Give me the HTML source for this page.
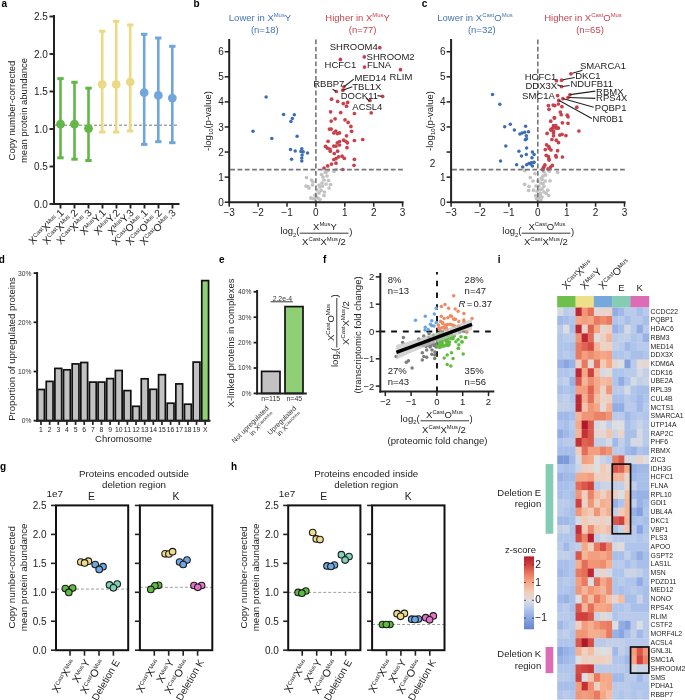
<!DOCTYPE html>
<html><head><meta charset="utf-8"><style>
html,body{margin:0;padding:0;background:#fff;}
body{width:685px;height:700px;overflow:hidden;}
svg{display:block;font-family:"Liberation Sans", sans-serif;will-change:transform;}
</style></head><body>
<svg width="685" height="700" viewBox="0 0 685 700">
<rect width="685" height="700" fill="#fff"/>
<text x="1.50" y="7.00" font-size="10.00" text-anchor="start" fill="#000" font-weight="bold" >a</text>
<line x1="54.00" y1="15.00" x2="54.00" y2="205.00" stroke="#222222" stroke-width="2.00" stroke-linecap="butt"/>
<line x1="53.00" y1="204.00" x2="179.50" y2="204.00" stroke="#222222" stroke-width="2.00" stroke-linecap="butt"/>
<line x1="49.50" y1="204.00" x2="54.00" y2="204.00" stroke="#222222" stroke-width="1.90" stroke-linecap="butt"/>
<text x="47.80" y="207.50" font-size="10.00" text-anchor="end" fill="#222222" >0.0</text>
<line x1="49.50" y1="166.50" x2="54.00" y2="166.50" stroke="#222222" stroke-width="1.90" stroke-linecap="butt"/>
<text x="47.80" y="170.00" font-size="10.00" text-anchor="end" fill="#222222" >0.5</text>
<line x1="49.50" y1="129.00" x2="54.00" y2="129.00" stroke="#222222" stroke-width="1.90" stroke-linecap="butt"/>
<text x="47.80" y="132.50" font-size="10.00" text-anchor="end" fill="#222222" >1.0</text>
<line x1="49.50" y1="91.50" x2="54.00" y2="91.50" stroke="#222222" stroke-width="1.90" stroke-linecap="butt"/>
<text x="47.80" y="95.00" font-size="10.00" text-anchor="end" fill="#222222" >1.5</text>
<line x1="49.50" y1="54.00" x2="54.00" y2="54.00" stroke="#222222" stroke-width="1.90" stroke-linecap="butt"/>
<text x="47.80" y="57.50" font-size="10.00" text-anchor="end" fill="#222222" >2.0</text>
<line x1="49.50" y1="16.50" x2="54.00" y2="16.50" stroke="#222222" stroke-width="1.90" stroke-linecap="butt"/>
<text x="47.80" y="20.00" font-size="10.00" text-anchor="end" fill="#222222" >2.5</text>
<text x="15.20" y="110.50" font-size="9.50" text-anchor="middle" fill="#222222" transform="rotate(-90.00 15.20 110.50)" >Copy number-corrected</text>
<text x="26.90" y="110.50" font-size="9.50" text-anchor="middle" fill="#222222" transform="rotate(-90.00 26.90 110.50)" >mean protein abundance</text>
<line x1="54.00" y1="125.20" x2="179.00" y2="125.20" stroke="#555" stroke-width="0.80" stroke-linecap="butt" stroke-dasharray="3,2"/>
<line x1="60.50" y1="78.60" x2="60.50" y2="157.80" stroke="#62b746" stroke-width="2.60" stroke-linecap="butt"/>
<line x1="57.30" y1="78.60" x2="63.70" y2="78.60" stroke="#62b746" stroke-width="3.00" stroke-linecap="butt"/>
<line x1="57.30" y1="157.80" x2="63.70" y2="157.80" stroke="#62b746" stroke-width="3.00" stroke-linecap="butt"/>
<circle cx="60.50" cy="124.20" r="4.40" fill="#62b746"/>
<line x1="74.50" y1="82.30" x2="74.50" y2="159.20" stroke="#62b746" stroke-width="2.60" stroke-linecap="butt"/>
<line x1="71.30" y1="82.30" x2="77.70" y2="82.30" stroke="#62b746" stroke-width="3.00" stroke-linecap="butt"/>
<line x1="71.30" y1="159.20" x2="77.70" y2="159.20" stroke="#62b746" stroke-width="3.00" stroke-linecap="butt"/>
<circle cx="74.50" cy="124.20" r="4.40" fill="#62b746"/>
<line x1="88.50" y1="88.20" x2="88.50" y2="160.50" stroke="#62b746" stroke-width="2.60" stroke-linecap="butt"/>
<line x1="85.30" y1="88.20" x2="91.70" y2="88.20" stroke="#62b746" stroke-width="3.00" stroke-linecap="butt"/>
<line x1="85.30" y1="160.50" x2="91.70" y2="160.50" stroke="#62b746" stroke-width="3.00" stroke-linecap="butt"/>
<circle cx="88.50" cy="128.60" r="4.40" fill="#62b746"/>
<line x1="102.20" y1="31.20" x2="102.20" y2="132.00" stroke="#ebd985" stroke-width="2.60" stroke-linecap="butt"/>
<line x1="99.00" y1="31.20" x2="105.40" y2="31.20" stroke="#ebd985" stroke-width="3.00" stroke-linecap="butt"/>
<line x1="99.00" y1="132.00" x2="105.40" y2="132.00" stroke="#ebd985" stroke-width="3.00" stroke-linecap="butt"/>
<circle cx="102.20" cy="84.40" r="4.40" fill="#ebd985"/>
<line x1="116.20" y1="21.30" x2="116.20" y2="132.00" stroke="#ebd985" stroke-width="2.60" stroke-linecap="butt"/>
<line x1="113.00" y1="21.30" x2="119.40" y2="21.30" stroke="#ebd985" stroke-width="3.00" stroke-linecap="butt"/>
<line x1="113.00" y1="132.00" x2="119.40" y2="132.00" stroke="#ebd985" stroke-width="3.00" stroke-linecap="butt"/>
<circle cx="116.20" cy="84.40" r="4.40" fill="#ebd985"/>
<line x1="130.20" y1="25.00" x2="130.20" y2="131.00" stroke="#ebd985" stroke-width="2.60" stroke-linecap="butt"/>
<line x1="127.00" y1="25.00" x2="133.40" y2="25.00" stroke="#ebd985" stroke-width="3.00" stroke-linecap="butt"/>
<line x1="127.00" y1="131.00" x2="133.40" y2="131.00" stroke="#ebd985" stroke-width="3.00" stroke-linecap="butt"/>
<circle cx="130.20" cy="82.00" r="4.40" fill="#ebd985"/>
<line x1="144.20" y1="34.30" x2="144.20" y2="144.40" stroke="#70a6dc" stroke-width="2.60" stroke-linecap="butt"/>
<line x1="141.00" y1="34.30" x2="147.40" y2="34.30" stroke="#70a6dc" stroke-width="3.00" stroke-linecap="butt"/>
<line x1="141.00" y1="144.40" x2="147.40" y2="144.40" stroke="#70a6dc" stroke-width="3.00" stroke-linecap="butt"/>
<circle cx="144.20" cy="92.60" r="4.40" fill="#70a6dc"/>
<line x1="158.30" y1="38.00" x2="158.30" y2="141.70" stroke="#70a6dc" stroke-width="2.60" stroke-linecap="butt"/>
<line x1="155.10" y1="38.00" x2="161.50" y2="38.00" stroke="#70a6dc" stroke-width="3.00" stroke-linecap="butt"/>
<line x1="155.10" y1="141.70" x2="161.50" y2="141.70" stroke="#70a6dc" stroke-width="3.00" stroke-linecap="butt"/>
<circle cx="158.30" cy="95.40" r="4.40" fill="#70a6dc"/>
<line x1="172.30" y1="46.30" x2="172.30" y2="142.70" stroke="#70a6dc" stroke-width="2.60" stroke-linecap="butt"/>
<line x1="169.10" y1="46.30" x2="175.50" y2="46.30" stroke="#70a6dc" stroke-width="3.00" stroke-linecap="butt"/>
<line x1="169.10" y1="142.70" x2="175.50" y2="142.70" stroke="#70a6dc" stroke-width="3.00" stroke-linecap="butt"/>
<circle cx="172.30" cy="98.10" r="4.40" fill="#70a6dc"/>
<line x1="60.50" y1="204.00" x2="60.50" y2="208.50" stroke="#222222" stroke-width="1.90" stroke-linecap="butt"/>
<line x1="74.50" y1="204.00" x2="74.50" y2="208.50" stroke="#222222" stroke-width="1.90" stroke-linecap="butt"/>
<line x1="88.50" y1="204.00" x2="88.50" y2="208.50" stroke="#222222" stroke-width="1.90" stroke-linecap="butt"/>
<line x1="102.50" y1="204.00" x2="102.50" y2="208.50" stroke="#222222" stroke-width="1.90" stroke-linecap="butt"/>
<line x1="116.50" y1="204.00" x2="116.50" y2="208.50" stroke="#222222" stroke-width="1.90" stroke-linecap="butt"/>
<line x1="130.50" y1="204.00" x2="130.50" y2="208.50" stroke="#222222" stroke-width="1.90" stroke-linecap="butt"/>
<line x1="144.50" y1="204.00" x2="144.50" y2="208.50" stroke="#222222" stroke-width="1.90" stroke-linecap="butt"/>
<line x1="158.50" y1="204.00" x2="158.50" y2="208.50" stroke="#222222" stroke-width="1.90" stroke-linecap="butt"/>
<line x1="172.50" y1="204.00" x2="172.50" y2="208.50" stroke="#222222" stroke-width="1.90" stroke-linecap="butt"/>
<text x="64.50" y="213.40" font-size="10.20" text-anchor="end" fill="#222222" transform="rotate(-45.00 64.50 213.40)" ><tspan font-size="10.20" dy="0.00">X</tspan><tspan font-size="5.81" dy="-3.26">Cast</tspan><tspan font-size="10.20" dy="3.26">X</tspan><tspan font-size="5.81" dy="-3.26">Mus</tspan><tspan font-size="10.20" dy="3.26">.1</tspan></text>
<text x="78.50" y="213.40" font-size="10.20" text-anchor="end" fill="#222222" transform="rotate(-45.00 78.50 213.40)" ><tspan font-size="10.20" dy="0.00">X</tspan><tspan font-size="5.81" dy="-3.26">Cast</tspan><tspan font-size="10.20" dy="3.26">X</tspan><tspan font-size="5.81" dy="-3.26">Mus</tspan><tspan font-size="10.20" dy="3.26">.2</tspan></text>
<text x="92.50" y="213.40" font-size="10.20" text-anchor="end" fill="#222222" transform="rotate(-45.00 92.50 213.40)" ><tspan font-size="10.20" dy="0.00">X</tspan><tspan font-size="5.81" dy="-3.26">Cast</tspan><tspan font-size="10.20" dy="3.26">X</tspan><tspan font-size="5.81" dy="-3.26">Mus</tspan><tspan font-size="10.20" dy="3.26">.3</tspan></text>
<text x="106.50" y="213.40" font-size="10.20" text-anchor="end" fill="#222222" transform="rotate(-45.00 106.50 213.40)" ><tspan font-size="10.20" dy="0.00">X</tspan><tspan font-size="5.81" dy="-3.26">Mus</tspan><tspan font-size="10.20" dy="3.26">Y</tspan><tspan font-size="10.20" dy="0.00">.1</tspan></text>
<text x="120.50" y="213.40" font-size="10.20" text-anchor="end" fill="#222222" transform="rotate(-45.00 120.50 213.40)" ><tspan font-size="10.20" dy="0.00">X</tspan><tspan font-size="5.81" dy="-3.26">Mus</tspan><tspan font-size="10.20" dy="3.26">Y</tspan><tspan font-size="10.20" dy="0.00">.2</tspan></text>
<text x="134.50" y="213.40" font-size="10.20" text-anchor="end" fill="#222222" transform="rotate(-45.00 134.50 213.40)" ><tspan font-size="10.20" dy="0.00">X</tspan><tspan font-size="5.81" dy="-3.26">Mus</tspan><tspan font-size="10.20" dy="3.26">Y</tspan><tspan font-size="10.20" dy="0.00">.3</tspan></text>
<text x="148.50" y="213.40" font-size="10.20" text-anchor="end" fill="#222222" transform="rotate(-45.00 148.50 213.40)" ><tspan font-size="10.20" dy="0.00">X</tspan><tspan font-size="5.81" dy="-3.26">Cast</tspan><tspan font-size="10.20" dy="3.26">O</tspan><tspan font-size="5.81" dy="-3.26">Mus</tspan><tspan font-size="10.20" dy="3.26">.1</tspan></text>
<text x="162.50" y="213.40" font-size="10.20" text-anchor="end" fill="#222222" transform="rotate(-45.00 162.50 213.40)" ><tspan font-size="10.20" dy="0.00">X</tspan><tspan font-size="5.81" dy="-3.26">Cast</tspan><tspan font-size="10.20" dy="3.26">O</tspan><tspan font-size="5.81" dy="-3.26">Mus</tspan><tspan font-size="10.20" dy="3.26">.2</tspan></text>
<text x="176.50" y="213.40" font-size="10.20" text-anchor="end" fill="#222222" transform="rotate(-45.00 176.50 213.40)" ><tspan font-size="10.20" dy="0.00">X</tspan><tspan font-size="5.81" dy="-3.26">Cast</tspan><tspan font-size="10.20" dy="3.26">O</tspan><tspan font-size="5.81" dy="-3.26">Mus</tspan><tspan font-size="10.20" dy="3.26">.3</tspan></text>
<circle cx="306.50" cy="177.50" r="1.85" fill="#c2c2c2"/>
<circle cx="311.50" cy="180.00" r="1.85" fill="#c2c2c2"/>
<circle cx="313.00" cy="182.00" r="1.85" fill="#c2c2c2"/>
<circle cx="306.00" cy="186.00" r="1.85" fill="#c2c2c2"/>
<circle cx="308.00" cy="186.50" r="1.85" fill="#c2c2c2"/>
<circle cx="312.50" cy="185.00" r="1.85" fill="#c2c2c2"/>
<circle cx="321.50" cy="174.50" r="1.85" fill="#c2c2c2"/>
<circle cx="325.00" cy="172.00" r="1.85" fill="#c2c2c2"/>
<circle cx="328.00" cy="170.50" r="1.85" fill="#c2c2c2"/>
<circle cx="334.00" cy="171.50" r="1.85" fill="#c2c2c2"/>
<circle cx="336.50" cy="169.50" r="1.85" fill="#c2c2c2"/>
<circle cx="323.00" cy="177.00" r="1.85" fill="#c2c2c2"/>
<circle cx="324.00" cy="180.00" r="1.85" fill="#c2c2c2"/>
<circle cx="328.50" cy="180.50" r="1.85" fill="#c2c2c2"/>
<circle cx="326.00" cy="184.00" r="1.85" fill="#c2c2c2"/>
<circle cx="330.50" cy="184.50" r="1.85" fill="#c2c2c2"/>
<circle cx="320.00" cy="187.00" r="1.85" fill="#c2c2c2"/>
<circle cx="322.50" cy="186.00" r="1.85" fill="#c2c2c2"/>
<circle cx="329.00" cy="188.00" r="1.85" fill="#c2c2c2"/>
<circle cx="321.00" cy="190.50" r="1.85" fill="#c2c2c2"/>
<circle cx="319.00" cy="193.00" r="1.85" fill="#c2c2c2"/>
<circle cx="324.50" cy="192.00" r="1.85" fill="#c2c2c2"/>
<circle cx="324.00" cy="195.50" r="1.85" fill="#c2c2c2"/>
<circle cx="318.00" cy="198.00" r="1.85" fill="#c2c2c2"/>
<circle cx="313.00" cy="198.50" r="1.85" fill="#c2c2c2"/>
<circle cx="315.00" cy="199.00" r="1.85" fill="#c2c2c2"/>
<circle cx="308.90" cy="188.00" r="1.85" fill="#c2c2c2"/>
<circle cx="310.70" cy="197.90" r="1.85" fill="#c2c2c2"/>
<circle cx="316.00" cy="196.00" r="1.85" fill="#c2c2c2"/>
<circle cx="317.00" cy="190.00" r="1.85" fill="#c2c2c2"/>
<circle cx="322.00" cy="183.00" r="1.85" fill="#c2c2c2"/>
<circle cx="327.00" cy="176.00" r="1.85" fill="#c2c2c2"/>
<circle cx="315.00" cy="195.00" r="1.85" fill="#c2c2c2"/>
<circle cx="319.00" cy="185.00" r="1.85" fill="#c2c2c2"/>
<circle cx="320.00" cy="199.50" r="1.85" fill="#c2c2c2"/>
<circle cx="326.00" cy="172.50" r="1.85" fill="#c2c2c2"/>
<circle cx="266.10" cy="97.00" r="1.75" fill="#3b6db6"/>
<circle cx="283.60" cy="114.50" r="1.75" fill="#3b6db6"/>
<circle cx="294.30" cy="114.80" r="1.75" fill="#3b6db6"/>
<circle cx="292.30" cy="118.40" r="1.75" fill="#3b6db6"/>
<circle cx="290.90" cy="121.60" r="1.75" fill="#3b6db6"/>
<circle cx="253.00" cy="131.25" r="1.75" fill="#3b6db6"/>
<circle cx="271.80" cy="138.40" r="1.75" fill="#3b6db6"/>
<circle cx="297.10" cy="136.25" r="1.75" fill="#3b6db6"/>
<circle cx="290.50" cy="149.60" r="1.75" fill="#3b6db6"/>
<circle cx="295.20" cy="151.10" r="1.75" fill="#3b6db6"/>
<circle cx="301.80" cy="148.75" r="1.75" fill="#3b6db6"/>
<circle cx="300.90" cy="151.40" r="1.75" fill="#3b6db6"/>
<circle cx="303.20" cy="151.80" r="1.75" fill="#3b6db6"/>
<circle cx="307.50" cy="152.90" r="1.75" fill="#3b6db6"/>
<circle cx="302.10" cy="155.00" r="1.75" fill="#3b6db6"/>
<circle cx="301.80" cy="157.90" r="1.75" fill="#3b6db6"/>
<circle cx="291.60" cy="159.30" r="1.75" fill="#3b6db6"/>
<circle cx="301.80" cy="160.90" r="1.75" fill="#3b6db6"/>
<circle cx="379.80" cy="47.70" r="1.85" fill="#c93f4a"/>
<circle cx="364.30" cy="56.90" r="1.85" fill="#c93f4a"/>
<circle cx="340.40" cy="59.40" r="1.85" fill="#c93f4a"/>
<circle cx="364.50" cy="67.10" r="1.85" fill="#c93f4a"/>
<circle cx="400.50" cy="69.70" r="1.85" fill="#c93f4a"/>
<circle cx="343.90" cy="86.80" r="1.85" fill="#c93f4a"/>
<circle cx="342.80" cy="90.20" r="1.85" fill="#c93f4a"/>
<circle cx="336.30" cy="91.50" r="1.85" fill="#c93f4a"/>
<circle cx="382.60" cy="96.30" r="1.85" fill="#c93f4a"/>
<circle cx="369.90" cy="100.40" r="1.85" fill="#c93f4a"/>
<circle cx="331.60" cy="99.20" r="1.85" fill="#c93f4a"/>
<circle cx="337.70" cy="101.40" r="1.85" fill="#c93f4a"/>
<circle cx="343.30" cy="103.60" r="1.85" fill="#c93f4a"/>
<circle cx="347.70" cy="102.40" r="1.85" fill="#c93f4a"/>
<circle cx="346.50" cy="106.20" r="1.85" fill="#c93f4a"/>
<circle cx="330.60" cy="111.80" r="1.85" fill="#c93f4a"/>
<circle cx="340.70" cy="112.60" r="1.85" fill="#c93f4a"/>
<circle cx="354.40" cy="113.50" r="1.85" fill="#c93f4a"/>
<circle cx="371.20" cy="112.80" r="1.85" fill="#c93f4a"/>
<circle cx="335.10" cy="118.80" r="1.85" fill="#c93f4a"/>
<circle cx="331.20" cy="121.10" r="1.85" fill="#c93f4a"/>
<circle cx="345.00" cy="119.80" r="1.85" fill="#c93f4a"/>
<circle cx="348.10" cy="122.40" r="1.85" fill="#c93f4a"/>
<circle cx="350.90" cy="126.40" r="1.85" fill="#c93f4a"/>
<circle cx="351.60" cy="131.30" r="1.85" fill="#c93f4a"/>
<circle cx="329.40" cy="129.10" r="1.85" fill="#c93f4a"/>
<circle cx="331.20" cy="129.10" r="1.85" fill="#c93f4a"/>
<circle cx="333.80" cy="132.90" r="1.85" fill="#c93f4a"/>
<circle cx="335.80" cy="131.00" r="1.85" fill="#c93f4a"/>
<circle cx="337.30" cy="133.60" r="1.85" fill="#c93f4a"/>
<circle cx="339.50" cy="132.90" r="1.85" fill="#c93f4a"/>
<circle cx="346.50" cy="135.80" r="1.85" fill="#c93f4a"/>
<circle cx="328.10" cy="141.30" r="1.85" fill="#c93f4a"/>
<circle cx="337.30" cy="142.80" r="1.85" fill="#c93f4a"/>
<circle cx="339.50" cy="141.50" r="1.85" fill="#c93f4a"/>
<circle cx="343.70" cy="140.20" r="1.85" fill="#c93f4a"/>
<circle cx="346.10" cy="141.50" r="1.85" fill="#c93f4a"/>
<circle cx="347.40" cy="142.80" r="1.85" fill="#c93f4a"/>
<circle cx="354.40" cy="140.50" r="1.85" fill="#c93f4a"/>
<circle cx="362.70" cy="139.50" r="1.85" fill="#c93f4a"/>
<circle cx="325.50" cy="146.30" r="1.85" fill="#c93f4a"/>
<circle cx="327.30" cy="148.10" r="1.85" fill="#c93f4a"/>
<circle cx="329.90" cy="149.00" r="1.85" fill="#c93f4a"/>
<circle cx="330.30" cy="151.20" r="1.85" fill="#c93f4a"/>
<circle cx="333.80" cy="146.10" r="1.85" fill="#c93f4a"/>
<circle cx="336.00" cy="146.10" r="1.85" fill="#c93f4a"/>
<circle cx="339.50" cy="145.00" r="1.85" fill="#c93f4a"/>
<circle cx="347.00" cy="147.70" r="1.85" fill="#c93f4a"/>
<circle cx="337.60" cy="151.20" r="1.85" fill="#c93f4a"/>
<circle cx="334.30" cy="153.50" r="1.85" fill="#c93f4a"/>
<circle cx="338.60" cy="156.80" r="1.85" fill="#c93f4a"/>
<circle cx="342.10" cy="156.20" r="1.85" fill="#c93f4a"/>
<circle cx="344.30" cy="158.30" r="1.85" fill="#c93f4a"/>
<circle cx="333.80" cy="159.50" r="1.85" fill="#c93f4a"/>
<circle cx="336.00" cy="158.60" r="1.85" fill="#c93f4a"/>
<circle cx="336.00" cy="163.20" r="1.85" fill="#c93f4a"/>
<circle cx="331.50" cy="164.10" r="1.85" fill="#c93f4a"/>
<circle cx="327.70" cy="165.90" r="1.85" fill="#c93f4a"/>
<circle cx="324.00" cy="168.00" r="1.85" fill="#c93f4a"/>
<circle cx="354.40" cy="159.30" r="1.85" fill="#c93f4a"/>
<circle cx="354.00" cy="165.30" r="1.85" fill="#c93f4a"/>
<circle cx="342.80" cy="169.50" r="1.85" fill="#c93f4a"/>
<line x1="315.90" y1="39.50" x2="315.90" y2="202.20" stroke="#767676" stroke-width="1.60" stroke-linecap="butt" stroke-dasharray="4.8,2.5"/>
<line x1="230.20" y1="169.60" x2="403.60" y2="169.60" stroke="#767676" stroke-width="1.60" stroke-linecap="butt" stroke-dasharray="4.8,2.5"/>
<line x1="229.20" y1="39.00" x2="229.20" y2="203.20" stroke="#222222" stroke-width="2.00" stroke-linecap="butt"/>
<line x1="228.20" y1="202.20" x2="403.60" y2="202.20" stroke="#222222" stroke-width="2.00" stroke-linecap="butt"/>
<line x1="224.70" y1="202.20" x2="229.20" y2="202.20" stroke="#222222" stroke-width="1.50" stroke-linecap="butt"/>
<text x="223.70" y="205.80" font-size="10.00" text-anchor="end" fill="#222222" >0</text>
<line x1="224.70" y1="177.12" x2="229.20" y2="177.12" stroke="#222222" stroke-width="1.50" stroke-linecap="butt"/>
<text x="223.70" y="180.72" font-size="10.00" text-anchor="end" fill="#222222" >1</text>
<line x1="224.70" y1="152.04" x2="229.20" y2="152.04" stroke="#222222" stroke-width="1.50" stroke-linecap="butt"/>
<text x="223.70" y="155.64" font-size="10.00" text-anchor="end" fill="#222222" >2</text>
<line x1="224.70" y1="126.96" x2="229.20" y2="126.96" stroke="#222222" stroke-width="1.50" stroke-linecap="butt"/>
<text x="223.70" y="130.56" font-size="10.00" text-anchor="end" fill="#222222" >3</text>
<line x1="224.70" y1="101.88" x2="229.20" y2="101.88" stroke="#222222" stroke-width="1.50" stroke-linecap="butt"/>
<text x="223.70" y="105.48" font-size="10.00" text-anchor="end" fill="#222222" >4</text>
<line x1="224.70" y1="76.80" x2="229.20" y2="76.80" stroke="#222222" stroke-width="1.50" stroke-linecap="butt"/>
<text x="223.70" y="80.40" font-size="10.00" text-anchor="end" fill="#222222" >5</text>
<line x1="224.70" y1="51.72" x2="229.20" y2="51.72" stroke="#222222" stroke-width="1.50" stroke-linecap="butt"/>
<text x="223.70" y="55.32" font-size="10.00" text-anchor="end" fill="#222222" >6</text>
<line x1="229.20" y1="202.20" x2="229.20" y2="206.70" stroke="#222222" stroke-width="1.50" stroke-linecap="butt"/>
<text x="229.20" y="216.20" font-size="10.00" text-anchor="middle" fill="#222222" >−3</text>
<line x1="258.10" y1="202.20" x2="258.10" y2="206.70" stroke="#222222" stroke-width="1.50" stroke-linecap="butt"/>
<text x="258.10" y="216.20" font-size="10.00" text-anchor="middle" fill="#222222" >−2</text>
<line x1="287.00" y1="202.20" x2="287.00" y2="206.70" stroke="#222222" stroke-width="1.50" stroke-linecap="butt"/>
<text x="287.00" y="216.20" font-size="10.00" text-anchor="middle" fill="#222222" >−1</text>
<line x1="315.90" y1="202.20" x2="315.90" y2="206.70" stroke="#222222" stroke-width="1.50" stroke-linecap="butt"/>
<text x="315.90" y="216.20" font-size="10.00" text-anchor="middle" fill="#222222" >0</text>
<line x1="344.80" y1="202.20" x2="344.80" y2="206.70" stroke="#222222" stroke-width="1.50" stroke-linecap="butt"/>
<text x="344.80" y="216.20" font-size="10.00" text-anchor="middle" fill="#222222" >1</text>
<line x1="373.70" y1="202.20" x2="373.70" y2="206.70" stroke="#222222" stroke-width="1.50" stroke-linecap="butt"/>
<text x="373.70" y="216.20" font-size="10.00" text-anchor="middle" fill="#222222" >2</text>
<line x1="402.60" y1="202.20" x2="402.60" y2="206.70" stroke="#222222" stroke-width="1.50" stroke-linecap="butt"/>
<text x="402.60" y="216.20" font-size="10.00" text-anchor="middle" fill="#222222" >3</text>
<text x="210.60" y="121.00" font-size="9.50" text-anchor="middle" fill="#222222" transform="rotate(-90.00 210.60 121.00)" ><tspan font-size="9.50" dy="0.00">-log</tspan><tspan font-size="5.89" dy="2.38">10</tspan><tspan font-size="9.50" dy="-2.38">(p-value)</tspan></text>
<text x="260.00" y="21.00" font-size="9.50" text-anchor="middle" fill="#4673b5" ><tspan font-size="9.50" dy="0.00">Lower in X</tspan><tspan font-size="5.89" dy="-3.61">Mus</tspan><tspan font-size="9.50" dy="3.61">Y</tspan></text>
<text x="264.80" y="32.50" font-size="9.50" text-anchor="middle" fill="#4673b5" >(n=18)</text>
<text x="357.60" y="21.00" font-size="9.50" text-anchor="middle" fill="#c7434d" ><tspan font-size="9.50" dy="0.00">Higher in X</tspan><tspan font-size="5.89" dy="-3.61">Mus</tspan><tspan font-size="9.50" dy="3.61">Y</tspan></text>
<text x="362.60" y="32.50" font-size="9.50" text-anchor="middle" fill="#c7434d" >(n=77)</text>
<text x="329.70" y="50.10" font-size="9.50" text-anchor="start" fill="#222" >SHROOM4</text>
<text x="366.60" y="59.60" font-size="9.50" text-anchor="start" fill="#222" >SHROOM2</text>
<text x="324.60" y="68.30" font-size="9.50" text-anchor="start" fill="#222" >HCFC1</text>
<text x="366.90" y="68.30" font-size="9.50" text-anchor="start" fill="#222" >FLNA</text>
<text x="389.60" y="80.00" font-size="9.50" text-anchor="start" fill="#222" >RLIM</text>
<text x="354.50" y="81.40" font-size="9.50" text-anchor="start" fill="#222" >MED14</text>
<text x="352.30" y="89.80" font-size="9.50" text-anchor="start" fill="#222" >TBL1X</text>
<text x="313.20" y="87.00" font-size="9.50" text-anchor="start" fill="#222" >RBBP7</text>
<text x="340.70" y="98.50" font-size="9.50" text-anchor="start" fill="#222" >DOCK11</text>
<text x="352.30" y="109.50" font-size="9.50" text-anchor="start" fill="#222" >ACSL4</text>
<line x1="353.80" y1="79.10" x2="343.90" y2="86.80" stroke="#222" stroke-width="1.10" stroke-linecap="butt"/>
<line x1="352.30" y1="86.80" x2="342.80" y2="90.20" stroke="#222" stroke-width="1.10" stroke-linecap="butt"/>
<line x1="332.60" y1="89.30" x2="336.00" y2="91.20" stroke="#222" stroke-width="1.10" stroke-linecap="butt"/>
<line x1="377.50" y1="95.60" x2="381.50" y2="96.30" stroke="#222" stroke-width="1.10" stroke-linecap="butt"/>
<line x1="366.20" y1="98.20" x2="369.20" y2="101.00" stroke="#222" stroke-width="1.10" stroke-linecap="butt"/>
<text x="280.40" y="234.20" font-size="9.50" text-anchor="start" fill="#222222" ><tspan font-size="9.50" dy="0.00">log</tspan><tspan font-size="5.89" dy="2.38">2</tspan><tspan font-size="9.50" dy="-2.38">(</tspan></text>
<line x1="299.70" y1="233.20" x2="348.50" y2="233.20" stroke="#222" stroke-width="0.90" stroke-linecap="butt"/>
<text x="349.20" y="234.50" font-size="9.50" text-anchor="start" fill="#222222" >)</text>
<text x="325.00" y="229.90" font-size="9.50" text-anchor="middle" fill="#222222" ><tspan font-size="9.50" dy="0.00">X</tspan><tspan font-size="5.89" dy="-3.61">Mus</tspan><tspan font-size="9.50" dy="3.61">Y</tspan></text>
<text x="324.00" y="245.00" font-size="9.50" text-anchor="middle" fill="#222222" ><tspan font-size="9.50" dy="0.00">X</tspan><tspan font-size="5.89" dy="-3.61">Cast</tspan><tspan font-size="9.50" dy="3.61">X</tspan><tspan font-size="5.89" dy="-3.61">Mus</tspan><tspan font-size="9.50" dy="3.61">/2</tspan></text>
<text x="193.50" y="7.00" font-size="10.00" text-anchor="start" fill="#000" font-weight="bold" >b</text>
<circle cx="524.80" cy="170.70" r="1.85" fill="#c2c2c2"/>
<circle cx="535.00" cy="173.60" r="1.85" fill="#c2c2c2"/>
<circle cx="530.30" cy="177.50" r="1.85" fill="#c2c2c2"/>
<circle cx="533.00" cy="181.00" r="1.85" fill="#c2c2c2"/>
<circle cx="524.60" cy="184.30" r="1.85" fill="#c2c2c2"/>
<circle cx="529.00" cy="186.40" r="1.85" fill="#c2c2c2"/>
<circle cx="528.60" cy="190.50" r="1.85" fill="#c2c2c2"/>
<circle cx="533.40" cy="190.20" r="1.85" fill="#c2c2c2"/>
<circle cx="535.60" cy="195.50" r="1.85" fill="#c2c2c2"/>
<circle cx="536.50" cy="198.50" r="1.85" fill="#c2c2c2"/>
<circle cx="538.60" cy="199.40" r="1.85" fill="#c2c2c2"/>
<circle cx="540.40" cy="193.70" r="1.85" fill="#c2c2c2"/>
<circle cx="541.30" cy="178.00" r="1.85" fill="#c2c2c2"/>
<circle cx="542.10" cy="179.30" r="1.85" fill="#c2c2c2"/>
<circle cx="545.60" cy="174.90" r="1.85" fill="#c2c2c2"/>
<circle cx="545.20" cy="181.00" r="1.85" fill="#c2c2c2"/>
<circle cx="550.00" cy="180.80" r="1.85" fill="#c2c2c2"/>
<circle cx="543.00" cy="183.60" r="1.85" fill="#c2c2c2"/>
<circle cx="543.90" cy="186.30" r="1.85" fill="#c2c2c2"/>
<circle cx="542.10" cy="188.90" r="1.85" fill="#c2c2c2"/>
<circle cx="547.80" cy="190.20" r="1.85" fill="#c2c2c2"/>
<circle cx="546.10" cy="193.30" r="1.85" fill="#c2c2c2"/>
<circle cx="548.70" cy="195.50" r="1.85" fill="#c2c2c2"/>
<circle cx="549.20" cy="171.20" r="1.85" fill="#c2c2c2"/>
<circle cx="557.50" cy="172.30" r="1.85" fill="#c2c2c2"/>
<circle cx="540.40" cy="196.80" r="1.85" fill="#c2c2c2"/>
<circle cx="538.00" cy="201.00" r="1.85" fill="#c2c2c2"/>
<circle cx="541.00" cy="200.00" r="1.85" fill="#c2c2c2"/>
<circle cx="544.00" cy="172.00" r="1.85" fill="#c2c2c2"/>
<circle cx="539.00" cy="186.00" r="1.85" fill="#c2c2c2"/>
<circle cx="537.00" cy="191.00" r="1.85" fill="#c2c2c2"/>
<circle cx="541.00" cy="183.00" r="1.85" fill="#c2c2c2"/>
<circle cx="543.00" cy="176.00" r="1.85" fill="#c2c2c2"/>
<circle cx="540.00" cy="190.00" r="1.85" fill="#c2c2c2"/>
<circle cx="544.00" cy="192.00" r="1.85" fill="#c2c2c2"/>
<circle cx="538.00" cy="181.00" r="1.85" fill="#c2c2c2"/>
<circle cx="536.00" cy="186.00" r="1.85" fill="#c2c2c2"/>
<circle cx="542.00" cy="197.00" r="1.85" fill="#c2c2c2"/>
<circle cx="539.00" cy="195.00" r="1.85" fill="#c2c2c2"/>
<circle cx="492.50" cy="94.60" r="1.75" fill="#3b6db6"/>
<circle cx="499.80" cy="104.30" r="1.75" fill="#3b6db6"/>
<circle cx="504.70" cy="126.80" r="1.75" fill="#3b6db6"/>
<circle cx="510.30" cy="124.20" r="1.75" fill="#3b6db6"/>
<circle cx="514.40" cy="130.00" r="1.75" fill="#3b6db6"/>
<circle cx="525.60" cy="126.20" r="1.75" fill="#3b6db6"/>
<circle cx="519.90" cy="133.90" r="1.75" fill="#3b6db6"/>
<circle cx="522.10" cy="132.90" r="1.75" fill="#3b6db6"/>
<circle cx="524.70" cy="132.30" r="1.75" fill="#3b6db6"/>
<circle cx="528.50" cy="131.70" r="1.75" fill="#3b6db6"/>
<circle cx="526.30" cy="135.80" r="1.75" fill="#3b6db6"/>
<circle cx="525.30" cy="139.70" r="1.75" fill="#3b6db6"/>
<circle cx="526.60" cy="138.80" r="1.75" fill="#3b6db6"/>
<circle cx="505.80" cy="145.90" r="1.75" fill="#3b6db6"/>
<circle cx="518.90" cy="151.30" r="1.75" fill="#3b6db6"/>
<circle cx="526.60" cy="148.00" r="1.75" fill="#3b6db6"/>
<circle cx="521.50" cy="156.00" r="1.75" fill="#3b6db6"/>
<circle cx="526.30" cy="154.50" r="1.75" fill="#3b6db6"/>
<circle cx="532.40" cy="151.90" r="1.75" fill="#3b6db6"/>
<circle cx="534.10" cy="154.50" r="1.75" fill="#3b6db6"/>
<circle cx="532.00" cy="157.70" r="1.75" fill="#3b6db6"/>
<circle cx="500.50" cy="160.90" r="1.75" fill="#3b6db6"/>
<circle cx="516.60" cy="164.80" r="1.75" fill="#3b6db6"/>
<circle cx="522.70" cy="167.00" r="1.75" fill="#3b6db6"/>
<circle cx="526.60" cy="164.80" r="1.75" fill="#3b6db6"/>
<circle cx="528.90" cy="163.50" r="1.75" fill="#3b6db6"/>
<circle cx="531.10" cy="162.80" r="1.75" fill="#3b6db6"/>
<circle cx="534.10" cy="162.20" r="1.75" fill="#3b6db6"/>
<circle cx="532.40" cy="166.00" r="1.75" fill="#3b6db6"/>
<circle cx="530.50" cy="164.10" r="1.75" fill="#3b6db6"/>
<circle cx="533.50" cy="162.40" r="1.75" fill="#3b6db6"/>
<circle cx="570.90" cy="73.80" r="1.85" fill="#c93f4a"/>
<circle cx="561.60" cy="80.20" r="1.85" fill="#c93f4a"/>
<circle cx="556.40" cy="80.70" r="1.85" fill="#c93f4a"/>
<circle cx="561.60" cy="86.60" r="1.85" fill="#c93f4a"/>
<circle cx="557.60" cy="95.60" r="1.85" fill="#c93f4a"/>
<circle cx="569.90" cy="94.80" r="1.85" fill="#c93f4a"/>
<circle cx="568.00" cy="97.60" r="1.85" fill="#c93f4a"/>
<circle cx="562.90" cy="98.70" r="1.85" fill="#c93f4a"/>
<circle cx="558.70" cy="100.40" r="1.85" fill="#c93f4a"/>
<circle cx="548.40" cy="105.60" r="1.85" fill="#c93f4a"/>
<circle cx="549.00" cy="109.30" r="1.85" fill="#c93f4a"/>
<circle cx="553.20" cy="105.10" r="1.85" fill="#c93f4a"/>
<circle cx="554.80" cy="105.60" r="1.85" fill="#c93f4a"/>
<circle cx="558.40" cy="104.00" r="1.85" fill="#c93f4a"/>
<circle cx="561.90" cy="106.70" r="1.85" fill="#c93f4a"/>
<circle cx="576.80" cy="107.20" r="1.85" fill="#c93f4a"/>
<circle cx="560.30" cy="112.00" r="1.85" fill="#c93f4a"/>
<circle cx="561.20" cy="114.70" r="1.85" fill="#c93f4a"/>
<circle cx="567.20" cy="115.20" r="1.85" fill="#c93f4a"/>
<circle cx="568.00" cy="116.80" r="1.85" fill="#c93f4a"/>
<circle cx="554.30" cy="117.60" r="1.85" fill="#c93f4a"/>
<circle cx="550.70" cy="121.20" r="1.85" fill="#c93f4a"/>
<circle cx="562.40" cy="122.80" r="1.85" fill="#c93f4a"/>
<circle cx="568.00" cy="123.30" r="1.85" fill="#c93f4a"/>
<circle cx="553.50" cy="125.70" r="1.85" fill="#c93f4a"/>
<circle cx="556.00" cy="128.10" r="1.85" fill="#c93f4a"/>
<circle cx="551.10" cy="129.20" r="1.85" fill="#c93f4a"/>
<circle cx="558.40" cy="128.10" r="1.85" fill="#c93f4a"/>
<circle cx="578.90" cy="131.00" r="1.85" fill="#c93f4a"/>
<circle cx="547.10" cy="133.40" r="1.85" fill="#c93f4a"/>
<circle cx="553.50" cy="132.90" r="1.85" fill="#c93f4a"/>
<circle cx="554.50" cy="118.10" r="1.85" fill="#c93f4a"/>
<circle cx="554.50" cy="126.40" r="1.85" fill="#c93f4a"/>
<circle cx="555.80" cy="125.50" r="1.85" fill="#c93f4a"/>
<circle cx="558.00" cy="128.00" r="1.85" fill="#c93f4a"/>
<circle cx="552.80" cy="128.10" r="1.85" fill="#c93f4a"/>
<circle cx="551.00" cy="130.10" r="1.85" fill="#c93f4a"/>
<circle cx="553.50" cy="131.20" r="1.85" fill="#c93f4a"/>
<circle cx="553.50" cy="135.80" r="1.85" fill="#c93f4a"/>
<circle cx="559.80" cy="135.10" r="1.85" fill="#c93f4a"/>
<circle cx="562.00" cy="134.40" r="1.85" fill="#c93f4a"/>
<circle cx="565.90" cy="135.60" r="1.85" fill="#c93f4a"/>
<circle cx="551.90" cy="139.50" r="1.85" fill="#c93f4a"/>
<circle cx="556.30" cy="140.20" r="1.85" fill="#c93f4a"/>
<circle cx="558.50" cy="142.60" r="1.85" fill="#c93f4a"/>
<circle cx="546.60" cy="144.80" r="1.85" fill="#c93f4a"/>
<circle cx="548.80" cy="146.50" r="1.85" fill="#c93f4a"/>
<circle cx="549.30" cy="148.30" r="1.85" fill="#c93f4a"/>
<circle cx="551.00" cy="150.00" r="1.85" fill="#c93f4a"/>
<circle cx="545.30" cy="149.60" r="1.85" fill="#c93f4a"/>
<circle cx="557.60" cy="150.70" r="1.85" fill="#c93f4a"/>
<circle cx="546.20" cy="155.30" r="1.85" fill="#c93f4a"/>
<circle cx="548.40" cy="156.60" r="1.85" fill="#c93f4a"/>
<circle cx="548.80" cy="158.80" r="1.85" fill="#c93f4a"/>
<circle cx="549.10" cy="160.10" r="1.85" fill="#c93f4a"/>
<circle cx="555.80" cy="155.70" r="1.85" fill="#c93f4a"/>
<circle cx="556.30" cy="157.00" r="1.85" fill="#c93f4a"/>
<circle cx="562.40" cy="157.00" r="1.85" fill="#c93f4a"/>
<circle cx="544.90" cy="164.90" r="1.85" fill="#c93f4a"/>
<circle cx="544.00" cy="166.70" r="1.85" fill="#c93f4a"/>
<circle cx="543.10" cy="168.40" r="1.85" fill="#c93f4a"/>
<circle cx="542.70" cy="169.70" r="1.85" fill="#c93f4a"/>
<circle cx="552.30" cy="165.40" r="1.85" fill="#c93f4a"/>
<circle cx="550.60" cy="167.10" r="1.85" fill="#c93f4a"/>
<circle cx="548.00" cy="168.90" r="1.85" fill="#c93f4a"/>
<line x1="537.80" y1="39.50" x2="537.80" y2="202.20" stroke="#767676" stroke-width="1.60" stroke-linecap="butt" stroke-dasharray="4.8,2.5"/>
<line x1="452.10" y1="169.60" x2="625.50" y2="169.60" stroke="#767676" stroke-width="1.60" stroke-linecap="butt" stroke-dasharray="4.8,2.5"/>
<line x1="451.10" y1="39.00" x2="451.10" y2="203.20" stroke="#222222" stroke-width="2.00" stroke-linecap="butt"/>
<line x1="450.10" y1="202.20" x2="625.50" y2="202.20" stroke="#222222" stroke-width="2.00" stroke-linecap="butt"/>
<line x1="446.60" y1="202.20" x2="451.10" y2="202.20" stroke="#222222" stroke-width="1.50" stroke-linecap="butt"/>
<text x="445.60" y="205.80" font-size="10.00" text-anchor="end" fill="#222222" >0</text>
<line x1="446.60" y1="177.12" x2="451.10" y2="177.12" stroke="#222222" stroke-width="1.50" stroke-linecap="butt"/>
<text x="445.60" y="180.72" font-size="10.00" text-anchor="end" fill="#222222" >1</text>
<line x1="446.60" y1="152.04" x2="451.10" y2="152.04" stroke="#222222" stroke-width="1.50" stroke-linecap="butt"/>
<line x1="446.60" y1="126.96" x2="451.10" y2="126.96" stroke="#222222" stroke-width="1.50" stroke-linecap="butt"/>
<text x="445.60" y="130.56" font-size="10.00" text-anchor="end" fill="#222222" >3</text>
<line x1="446.60" y1="101.88" x2="451.10" y2="101.88" stroke="#222222" stroke-width="1.50" stroke-linecap="butt"/>
<text x="445.60" y="105.48" font-size="10.00" text-anchor="end" fill="#222222" >4</text>
<line x1="446.60" y1="76.80" x2="451.10" y2="76.80" stroke="#222222" stroke-width="1.50" stroke-linecap="butt"/>
<text x="445.60" y="80.40" font-size="10.00" text-anchor="end" fill="#222222" >5</text>
<line x1="446.60" y1="51.72" x2="451.10" y2="51.72" stroke="#222222" stroke-width="1.50" stroke-linecap="butt"/>
<text x="445.60" y="55.32" font-size="10.00" text-anchor="end" fill="#222222" >6</text>
<text x="435.30" y="166.90" font-size="10.00" text-anchor="end" fill="#222222" >2</text>
<line x1="451.10" y1="202.20" x2="451.10" y2="206.70" stroke="#222222" stroke-width="1.50" stroke-linecap="butt"/>
<text x="451.10" y="216.20" font-size="10.00" text-anchor="middle" fill="#222222" >−3</text>
<line x1="480.00" y1="202.20" x2="480.00" y2="206.70" stroke="#222222" stroke-width="1.50" stroke-linecap="butt"/>
<text x="480.00" y="216.20" font-size="10.00" text-anchor="middle" fill="#222222" >−2</text>
<line x1="508.90" y1="202.20" x2="508.90" y2="206.70" stroke="#222222" stroke-width="1.50" stroke-linecap="butt"/>
<text x="508.90" y="216.20" font-size="10.00" text-anchor="middle" fill="#222222" >−1</text>
<line x1="537.80" y1="202.20" x2="537.80" y2="206.70" stroke="#222222" stroke-width="1.50" stroke-linecap="butt"/>
<text x="537.80" y="216.20" font-size="10.00" text-anchor="middle" fill="#222222" >0</text>
<line x1="566.70" y1="202.20" x2="566.70" y2="206.70" stroke="#222222" stroke-width="1.50" stroke-linecap="butt"/>
<text x="566.70" y="216.20" font-size="10.00" text-anchor="middle" fill="#222222" >1</text>
<line x1="595.60" y1="202.20" x2="595.60" y2="206.70" stroke="#222222" stroke-width="1.50" stroke-linecap="butt"/>
<text x="595.60" y="216.20" font-size="10.00" text-anchor="middle" fill="#222222" >2</text>
<line x1="624.50" y1="202.20" x2="624.50" y2="206.70" stroke="#222222" stroke-width="1.50" stroke-linecap="butt"/>
<text x="624.50" y="216.20" font-size="10.00" text-anchor="middle" fill="#222222" >3</text>
<text x="432.50" y="121.00" font-size="9.50" text-anchor="middle" fill="#222222" transform="rotate(-90.00 432.50 121.00)" ><tspan font-size="9.50" dy="0.00">-log</tspan><tspan font-size="5.89" dy="2.38">10</tspan><tspan font-size="9.50" dy="-2.38">(p-value)</tspan></text>
<text x="475.00" y="21.00" font-size="9.50" text-anchor="middle" fill="#4673b5" ><tspan font-size="9.50" dy="0.00">Lower in X</tspan><tspan font-size="5.89" dy="-3.61">Cast</tspan><tspan font-size="9.50" dy="3.61">O</tspan><tspan font-size="5.89" dy="-3.61">Mus</tspan></text>
<text x="481.80" y="32.50" font-size="9.50" text-anchor="middle" fill="#4673b5" >(n=32)</text>
<text x="583.00" y="21.00" font-size="9.50" text-anchor="middle" fill="#c7434d" ><tspan font-size="9.50" dy="0.00">Higher in X</tspan><tspan font-size="5.89" dy="-3.61">Cast</tspan><tspan font-size="9.50" dy="3.61">O</tspan><tspan font-size="5.89" dy="-3.61">Mus</tspan></text>
<text x="590.00" y="32.50" font-size="9.50" text-anchor="middle" fill="#c7434d" >(n=65)</text>
<text x="580.00" y="69.30" font-size="9.50" text-anchor="start" fill="#222" >SMARCA1</text>
<text x="575.20" y="79.30" font-size="9.50" text-anchor="start" fill="#222" >DKC1</text>
<text x="556.40" y="80.10" font-size="9.50" text-anchor="end" fill="#222" >HCFC1</text>
<text x="570.40" y="87.30" font-size="9.50" text-anchor="start" fill="#222" >NDUFB11</text>
<text x="557.10" y="89.20" font-size="9.50" text-anchor="end" fill="#222" >DDX3X</text>
<text x="554.80" y="99.00" font-size="9.50" text-anchor="end" fill="#222" >SMC1A</text>
<text x="596.10" y="95.00" font-size="9.50" text-anchor="start" fill="#222" >RBMX</text>
<text x="596.10" y="101.00" font-size="9.50" text-anchor="start" fill="#222" >RPS4X</text>
<text x="594.80" y="110.60" font-size="9.50" text-anchor="start" fill="#222" >PQBP1</text>
<text x="592.60" y="122.30" font-size="9.50" text-anchor="start" fill="#222" >NR0B1</text>
<line x1="572.50" y1="73.20" x2="582.50" y2="70.30" stroke="#222" stroke-width="1.10" stroke-linecap="butt"/>
<line x1="563.00" y1="79.80" x2="574.70" y2="77.50" stroke="#222" stroke-width="1.10" stroke-linecap="butt"/>
<line x1="557.20" y1="84.70" x2="561.00" y2="86.30" stroke="#222" stroke-width="1.10" stroke-linecap="butt"/>
<line x1="562.50" y1="86.50" x2="569.60" y2="85.50" stroke="#222" stroke-width="1.10" stroke-linecap="butt"/>
<line x1="570.00" y1="94.60" x2="595.30" y2="91.10" stroke="#222" stroke-width="1.10" stroke-linecap="butt"/>
<line x1="568.50" y1="97.50" x2="595.30" y2="98.40" stroke="#222" stroke-width="1.10" stroke-linecap="butt"/>
<line x1="563.50" y1="98.80" x2="593.70" y2="107.20" stroke="#222" stroke-width="1.10" stroke-linecap="butt"/>
<line x1="559.20" y1="100.60" x2="591.80" y2="118.40" stroke="#222" stroke-width="1.10" stroke-linecap="butt"/>
<text x="502.30" y="234.20" font-size="9.50" text-anchor="start" fill="#222222" ><tspan font-size="9.50" dy="0.00">log</tspan><tspan font-size="5.89" dy="2.38">2</tspan><tspan font-size="9.50" dy="-2.38">(</tspan></text>
<line x1="521.60" y1="233.20" x2="570.40" y2="233.20" stroke="#222" stroke-width="0.90" stroke-linecap="butt"/>
<text x="571.10" y="234.50" font-size="9.50" text-anchor="start" fill="#222222" >)</text>
<text x="546.90" y="229.90" font-size="9.50" text-anchor="middle" fill="#222222" ><tspan font-size="9.50" dy="0.00">X</tspan><tspan font-size="5.89" dy="-3.61">Cast</tspan><tspan font-size="9.50" dy="3.61">O</tspan><tspan font-size="5.89" dy="-3.61">Mus</tspan></text>
<text x="545.90" y="245.00" font-size="9.50" text-anchor="middle" fill="#222222" ><tspan font-size="9.50" dy="0.00">X</tspan><tspan font-size="5.89" dy="-3.61">Cast</tspan><tspan font-size="9.50" dy="3.61">X</tspan><tspan font-size="5.89" dy="-3.61">Mus</tspan><tspan font-size="9.50" dy="3.61">/2</tspan></text>
<text x="421.70" y="7.00" font-size="10.00" text-anchor="start" fill="#000" font-weight="bold" >c</text>
<text x="-1.30" y="262.70" font-size="10.00" text-anchor="start" fill="#000" font-weight="bold" >d</text>
<rect x="37.60" y="389.50" width="6.80" height="31.20" fill="#c2c2c2" stroke="#111" stroke-width="1.70"/>
<rect x="46.24" y="381.40" width="6.80" height="39.30" fill="#c2c2c2" stroke="#111" stroke-width="1.70"/>
<rect x="54.88" y="368.40" width="6.80" height="52.30" fill="#c2c2c2" stroke="#111" stroke-width="1.70"/>
<rect x="63.52" y="369.80" width="6.80" height="50.90" fill="#c2c2c2" stroke="#111" stroke-width="1.70"/>
<rect x="72.16" y="363.90" width="6.80" height="56.80" fill="#c2c2c2" stroke="#111" stroke-width="1.70"/>
<rect x="80.80" y="362.50" width="6.80" height="58.20" fill="#c2c2c2" stroke="#111" stroke-width="1.70"/>
<rect x="89.44" y="382.10" width="6.80" height="38.60" fill="#c2c2c2" stroke="#111" stroke-width="1.70"/>
<rect x="98.08" y="382.10" width="6.80" height="38.60" fill="#c2c2c2" stroke="#111" stroke-width="1.70"/>
<rect x="106.72" y="378.60" width="6.80" height="42.10" fill="#c2c2c2" stroke="#111" stroke-width="1.70"/>
<rect x="115.36" y="370.50" width="6.80" height="50.20" fill="#c2c2c2" stroke="#111" stroke-width="1.70"/>
<rect x="124.00" y="390.60" width="6.80" height="30.10" fill="#c2c2c2" stroke="#111" stroke-width="1.70"/>
<rect x="132.64" y="406.30" width="6.80" height="14.40" fill="#c2c2c2" stroke="#111" stroke-width="1.70"/>
<rect x="141.28" y="378.80" width="6.80" height="41.90" fill="#c2c2c2" stroke="#111" stroke-width="1.70"/>
<rect x="149.92" y="389.30" width="6.80" height="31.40" fill="#c2c2c2" stroke="#111" stroke-width="1.70"/>
<rect x="158.56" y="374.70" width="6.80" height="46.00" fill="#c2c2c2" stroke="#111" stroke-width="1.70"/>
<rect x="167.20" y="403.20" width="6.80" height="17.50" fill="#c2c2c2" stroke="#111" stroke-width="1.70"/>
<rect x="175.84" y="383.90" width="6.80" height="36.80" fill="#c2c2c2" stroke="#111" stroke-width="1.70"/>
<rect x="184.48" y="404.20" width="6.80" height="16.50" fill="#c2c2c2" stroke="#111" stroke-width="1.70"/>
<rect x="193.12" y="362.10" width="6.80" height="58.60" fill="#c2c2c2" stroke="#111" stroke-width="1.70"/>
<rect x="201.76" y="280.60" width="6.80" height="140.10" fill="#8fcf75" stroke="#111" stroke-width="1.70"/>
<line x1="37.10" y1="272.00" x2="37.10" y2="421.70" stroke="#222222" stroke-width="2.00" stroke-linecap="butt"/>
<line x1="36.10" y1="420.70" x2="210.50" y2="420.70" stroke="#222222" stroke-width="2.00" stroke-linecap="butt"/>
<line x1="33.60" y1="420.70" x2="37.10" y2="420.70" stroke="#222222" stroke-width="1.80" stroke-linecap="butt"/>
<text x="31.50" y="423.10" font-size="6.70" text-anchor="end" fill="#333" >0%</text>
<line x1="33.60" y1="371.50" x2="37.10" y2="371.50" stroke="#222222" stroke-width="1.80" stroke-linecap="butt"/>
<text x="31.50" y="373.90" font-size="6.70" text-anchor="end" fill="#333" >10%</text>
<line x1="33.60" y1="322.30" x2="37.10" y2="322.30" stroke="#222222" stroke-width="1.80" stroke-linecap="butt"/>
<text x="31.50" y="324.70" font-size="6.70" text-anchor="end" fill="#333" >20%</text>
<line x1="33.60" y1="273.10" x2="37.10" y2="273.10" stroke="#222222" stroke-width="1.80" stroke-linecap="butt"/>
<text x="31.50" y="275.50" font-size="6.70" text-anchor="end" fill="#333" >30%</text>
<line x1="41.00" y1="420.70" x2="41.00" y2="424.90" stroke="#222222" stroke-width="1.70" stroke-linecap="butt"/>
<text x="41.00" y="432.00" font-size="6.80" text-anchor="middle" fill="#222" >1</text>
<line x1="49.64" y1="420.70" x2="49.64" y2="424.90" stroke="#222222" stroke-width="1.70" stroke-linecap="butt"/>
<text x="49.64" y="432.00" font-size="6.80" text-anchor="middle" fill="#222" >2</text>
<line x1="58.28" y1="420.70" x2="58.28" y2="424.90" stroke="#222222" stroke-width="1.70" stroke-linecap="butt"/>
<text x="58.28" y="432.00" font-size="6.80" text-anchor="middle" fill="#222" >3</text>
<line x1="66.92" y1="420.70" x2="66.92" y2="424.90" stroke="#222222" stroke-width="1.70" stroke-linecap="butt"/>
<text x="66.92" y="432.00" font-size="6.80" text-anchor="middle" fill="#222" >4</text>
<line x1="75.56" y1="420.70" x2="75.56" y2="424.90" stroke="#222222" stroke-width="1.70" stroke-linecap="butt"/>
<text x="75.56" y="432.00" font-size="6.80" text-anchor="middle" fill="#222" >5</text>
<line x1="84.20" y1="420.70" x2="84.20" y2="424.90" stroke="#222222" stroke-width="1.70" stroke-linecap="butt"/>
<text x="84.20" y="432.00" font-size="6.80" text-anchor="middle" fill="#222" >6</text>
<line x1="92.84" y1="420.70" x2="92.84" y2="424.90" stroke="#222222" stroke-width="1.70" stroke-linecap="butt"/>
<text x="92.84" y="432.00" font-size="6.80" text-anchor="middle" fill="#222" >7</text>
<line x1="101.48" y1="420.70" x2="101.48" y2="424.90" stroke="#222222" stroke-width="1.70" stroke-linecap="butt"/>
<text x="101.48" y="432.00" font-size="6.80" text-anchor="middle" fill="#222" >8</text>
<line x1="110.12" y1="420.70" x2="110.12" y2="424.90" stroke="#222222" stroke-width="1.70" stroke-linecap="butt"/>
<text x="110.12" y="432.00" font-size="6.80" text-anchor="middle" fill="#222" >9</text>
<line x1="118.76" y1="420.70" x2="118.76" y2="424.90" stroke="#222222" stroke-width="1.70" stroke-linecap="butt"/>
<text x="118.76" y="432.00" font-size="6.80" text-anchor="middle" fill="#222" >10</text>
<line x1="127.40" y1="420.70" x2="127.40" y2="424.90" stroke="#222222" stroke-width="1.70" stroke-linecap="butt"/>
<text x="127.40" y="432.00" font-size="6.80" text-anchor="middle" fill="#222" >11</text>
<line x1="136.04" y1="420.70" x2="136.04" y2="424.90" stroke="#222222" stroke-width="1.70" stroke-linecap="butt"/>
<text x="136.04" y="432.00" font-size="6.80" text-anchor="middle" fill="#222" >12</text>
<line x1="144.68" y1="420.70" x2="144.68" y2="424.90" stroke="#222222" stroke-width="1.70" stroke-linecap="butt"/>
<text x="144.68" y="432.00" font-size="6.80" text-anchor="middle" fill="#222" >13</text>
<line x1="153.32" y1="420.70" x2="153.32" y2="424.90" stroke="#222222" stroke-width="1.70" stroke-linecap="butt"/>
<text x="153.32" y="432.00" font-size="6.80" text-anchor="middle" fill="#222" >14</text>
<line x1="161.96" y1="420.70" x2="161.96" y2="424.90" stroke="#222222" stroke-width="1.70" stroke-linecap="butt"/>
<text x="161.96" y="432.00" font-size="6.80" text-anchor="middle" fill="#222" >15</text>
<line x1="170.60" y1="420.70" x2="170.60" y2="424.90" stroke="#222222" stroke-width="1.70" stroke-linecap="butt"/>
<text x="170.60" y="432.00" font-size="6.80" text-anchor="middle" fill="#222" >16</text>
<line x1="179.24" y1="420.70" x2="179.24" y2="424.90" stroke="#222222" stroke-width="1.70" stroke-linecap="butt"/>
<text x="179.24" y="432.00" font-size="6.80" text-anchor="middle" fill="#222" >17</text>
<line x1="187.88" y1="420.70" x2="187.88" y2="424.90" stroke="#222222" stroke-width="1.70" stroke-linecap="butt"/>
<text x="187.88" y="432.00" font-size="6.80" text-anchor="middle" fill="#222" >18</text>
<line x1="196.52" y1="420.70" x2="196.52" y2="424.90" stroke="#222222" stroke-width="1.70" stroke-linecap="butt"/>
<text x="196.52" y="432.00" font-size="6.80" text-anchor="middle" fill="#222" >19</text>
<line x1="205.16" y1="420.70" x2="205.16" y2="424.90" stroke="#222222" stroke-width="1.70" stroke-linecap="butt"/>
<text x="205.16" y="432.00" font-size="6.80" text-anchor="middle" fill="#222" >X</text>
<text x="123.60" y="442.20" font-size="9.50" text-anchor="middle" fill="#222222" >Chromosome</text>
<text x="14.80" y="349.00" font-size="9.50" text-anchor="middle" fill="#222222" transform="rotate(-90.00 14.80 349.00)" >Proportion of upregulated proteins</text>
<text x="219.00" y="263.00" font-size="10.00" text-anchor="start" fill="#000" font-weight="bold" >e</text>
<rect x="261.60" y="371.40" width="18.40" height="22.00" fill="#c2c2c2" stroke="#111" stroke-width="1.70"/>
<rect x="285.00" y="306.60" width="18.00" height="86.80" fill="#8fcf75" stroke="#111" stroke-width="1.70"/>
<line x1="257.10" y1="290.00" x2="257.10" y2="394.40" stroke="#222222" stroke-width="2.00" stroke-linecap="butt"/>
<line x1="256.10" y1="393.40" x2="306.80" y2="393.40" stroke="#222222" stroke-width="2.00" stroke-linecap="butt"/>
<line x1="253.60" y1="393.40" x2="257.10" y2="393.40" stroke="#222222" stroke-width="1.80" stroke-linecap="butt"/>
<text x="251.50" y="395.80" font-size="6.70" text-anchor="end" fill="#333" >0%</text>
<line x1="253.60" y1="368.00" x2="257.10" y2="368.00" stroke="#222222" stroke-width="1.80" stroke-linecap="butt"/>
<text x="251.50" y="370.40" font-size="6.70" text-anchor="end" fill="#333" >10%</text>
<line x1="253.60" y1="342.60" x2="257.10" y2="342.60" stroke="#222222" stroke-width="1.80" stroke-linecap="butt"/>
<text x="251.50" y="345.00" font-size="6.70" text-anchor="end" fill="#333" >20%</text>
<line x1="253.60" y1="317.20" x2="257.10" y2="317.20" stroke="#222222" stroke-width="1.80" stroke-linecap="butt"/>
<text x="251.50" y="319.60" font-size="6.70" text-anchor="end" fill="#333" >30%</text>
<line x1="253.60" y1="291.80" x2="257.10" y2="291.80" stroke="#222222" stroke-width="1.80" stroke-linecap="butt"/>
<text x="251.50" y="294.20" font-size="6.70" text-anchor="end" fill="#333" >40%</text>
<text x="282.40" y="300.50" font-size="6.90" text-anchor="middle" fill="#333" >2.2e-4</text>
<line x1="270.60" y1="301.80" x2="292.90" y2="301.80" stroke="#222222" stroke-width="0.90" stroke-linecap="butt"/>
<text x="270.70" y="401.30" font-size="7.00" text-anchor="middle" fill="#333" >n=115</text>
<text x="294.30" y="401.30" font-size="7.00" text-anchor="middle" fill="#333" >n=45</text>
<text x="233.50" y="343.00" font-size="9.50" text-anchor="middle" fill="#222222" transform="rotate(-90.00 233.50 343.00)" >X-linked proteins in complexes</text>
<text x="269.30" y="408.80" font-size="6.90" text-anchor="end" fill="#333" transform="rotate(-45.00 269.30 408.80)" >Not upregulated</text>
<text x="274.20" y="414.40" font-size="6.90" text-anchor="end" fill="#333" transform="rotate(-45.00 274.20 414.40)" ><tspan font-size="6.90" dy="0.00">in X</tspan><tspan font-size="4.14" dy="-2.07">CastXMus</tspan></text>
<text x="296.80" y="408.80" font-size="6.90" text-anchor="end" fill="#333" transform="rotate(-45.00 296.80 408.80)" >Upregulated</text>
<text x="301.70" y="414.40" font-size="6.90" text-anchor="end" fill="#333" transform="rotate(-45.00 301.70 414.40)" ><tspan font-size="6.90" dy="0.00">in X</tspan><tspan font-size="4.14" dy="-2.07">CastOMus</tspan></text>
<text x="323.00" y="263.00" font-size="10.00" text-anchor="start" fill="#000" font-weight="bold" >f</text>
<line x1="437" y1="271.9" x2="437" y2="391.6" stroke="#111" stroke-width="1.9" stroke-dasharray="5.5,6.25" stroke-dashoffset="2.9"/>
<line x1="379.35" y1="331.50" x2="490.8" y2="331.50" stroke="#111" stroke-width="1.9" stroke-dasharray="5.9,5.85"/>
<circle cx="403.40" cy="337.40" r="1.75" fill="#7d7d7d"/>
<circle cx="402.60" cy="342.60" r="1.75" fill="#7d7d7d"/>
<circle cx="418.70" cy="338.90" r="1.75" fill="#7d7d7d"/>
<circle cx="423.80" cy="336.00" r="1.75" fill="#7d7d7d"/>
<circle cx="428.90" cy="337.40" r="1.75" fill="#7d7d7d"/>
<circle cx="433.30" cy="335.30" r="1.75" fill="#7d7d7d"/>
<circle cx="425.30" cy="344.70" r="1.75" fill="#7d7d7d"/>
<circle cx="430.40" cy="346.20" r="1.75" fill="#7d7d7d"/>
<circle cx="426.70" cy="349.90" r="1.75" fill="#7d7d7d"/>
<circle cx="436.20" cy="346.90" r="1.75" fill="#7d7d7d"/>
<circle cx="422.30" cy="352.80" r="1.75" fill="#7d7d7d"/>
<circle cx="431.80" cy="354.20" r="1.75" fill="#7d7d7d"/>
<circle cx="434.70" cy="355.00" r="1.75" fill="#7d7d7d"/>
<circle cx="423.80" cy="356.40" r="1.75" fill="#7d7d7d"/>
<circle cx="426.70" cy="357.20" r="1.75" fill="#7d7d7d"/>
<circle cx="434.70" cy="358.60" r="1.75" fill="#7d7d7d"/>
<circle cx="422.30" cy="360.10" r="1.75" fill="#7d7d7d"/>
<circle cx="408.50" cy="360.80" r="1.75" fill="#7d7d7d"/>
<circle cx="406.30" cy="362.30" r="1.75" fill="#7d7d7d"/>
<circle cx="412.10" cy="368.10" r="1.75" fill="#7d7d7d"/>
<circle cx="396.10" cy="356.40" r="1.75" fill="#7d7d7d"/>
<circle cx="430.00" cy="341.00" r="1.75" fill="#7d7d7d"/>
<circle cx="434.00" cy="340.00" r="1.75" fill="#7d7d7d"/>
<circle cx="427.00" cy="343.00" r="1.75" fill="#7d7d7d"/>
<circle cx="432.00" cy="350.00" r="1.75" fill="#7d7d7d"/>
<circle cx="435.00" cy="352.00" r="1.75" fill="#7d7d7d"/>
<circle cx="420.00" cy="345.00" r="1.75" fill="#7d7d7d"/>
<circle cx="436.00" cy="337.00" r="1.75" fill="#7d7d7d"/>
<circle cx="429.00" cy="333.50" r="1.75" fill="#7d7d7d"/>
<circle cx="425.00" cy="344.00" r="1.75" fill="#7d7d7d"/>
<circle cx="428.00" cy="345.00" r="1.75" fill="#7d7d7d"/>
<circle cx="431.00" cy="344.50" r="1.75" fill="#7d7d7d"/>
<circle cx="434.00" cy="345.50" r="1.75" fill="#7d7d7d"/>
<circle cx="426.00" cy="346.50" r="1.75" fill="#7d7d7d"/>
<circle cx="430.00" cy="347.00" r="1.75" fill="#7d7d7d"/>
<circle cx="433.00" cy="343.00" r="1.75" fill="#7d7d7d"/>
<circle cx="436.00" cy="344.00" r="1.75" fill="#7d7d7d"/>
<circle cx="429.00" cy="342.50" r="1.75" fill="#7d7d7d"/>
<circle cx="423.00" cy="345.50" r="1.75" fill="#7d7d7d"/>
<circle cx="436.20" cy="308.20" r="1.75" fill="#6aa7e0"/>
<circle cx="425.30" cy="316.30" r="1.75" fill="#6aa7e0"/>
<circle cx="434.30" cy="314.10" r="1.75" fill="#6aa7e0"/>
<circle cx="415.50" cy="320.20" r="1.75" fill="#6aa7e0"/>
<circle cx="431.80" cy="320.70" r="1.75" fill="#6aa7e0"/>
<circle cx="430.40" cy="324.30" r="1.75" fill="#6aa7e0"/>
<circle cx="431.80" cy="325.80" r="1.75" fill="#6aa7e0"/>
<circle cx="425.30" cy="327.20" r="1.75" fill="#6aa7e0"/>
<circle cx="425.00" cy="330.10" r="1.75" fill="#6aa7e0"/>
<circle cx="428.20" cy="329.40" r="1.75" fill="#6aa7e0"/>
<circle cx="436.20" cy="322.80" r="1.75" fill="#6aa7e0"/>
<circle cx="434.00" cy="326.00" r="1.75" fill="#6aa7e0"/>
<circle cx="441.30" cy="306.40" r="1.75" fill="#ef8a62"/>
<circle cx="445.00" cy="304.60" r="1.75" fill="#ef8a62"/>
<circle cx="448.60" cy="308.20" r="1.75" fill="#ef8a62"/>
<circle cx="453.70" cy="295.80" r="1.75" fill="#ef8a62"/>
<circle cx="455.20" cy="309.00" r="1.75" fill="#ef8a62"/>
<circle cx="458.10" cy="311.20" r="1.75" fill="#ef8a62"/>
<circle cx="463.90" cy="313.40" r="1.75" fill="#ef8a62"/>
<circle cx="441.30" cy="316.30" r="1.75" fill="#ef8a62"/>
<circle cx="444.20" cy="318.50" r="1.75" fill="#ef8a62"/>
<circle cx="447.90" cy="317.70" r="1.75" fill="#ef8a62"/>
<circle cx="451.50" cy="316.30" r="1.75" fill="#ef8a62"/>
<circle cx="454.50" cy="319.20" r="1.75" fill="#ef8a62"/>
<circle cx="458.80" cy="321.40" r="1.75" fill="#ef8a62"/>
<circle cx="463.90" cy="319.90" r="1.75" fill="#ef8a62"/>
<circle cx="472.00" cy="318.50" r="1.75" fill="#ef8a62"/>
<circle cx="438.40" cy="325.00" r="1.75" fill="#ef8a62"/>
<circle cx="442.80" cy="323.60" r="1.75" fill="#ef8a62"/>
<circle cx="446.40" cy="325.00" r="1.75" fill="#ef8a62"/>
<circle cx="450.10" cy="324.30" r="1.75" fill="#ef8a62"/>
<circle cx="453.70" cy="325.80" r="1.75" fill="#ef8a62"/>
<circle cx="441.30" cy="328.00" r="1.75" fill="#ef8a62"/>
<circle cx="445.00" cy="328.70" r="1.75" fill="#ef8a62"/>
<circle cx="440.60" cy="321.40" r="1.75" fill="#ef8a62"/>
<circle cx="466.90" cy="332.30" r="1.75" fill="#ef8a62"/>
<circle cx="450.40" cy="315.70" r="1.75" fill="#ef8a62"/>
<circle cx="453.40" cy="319.00" r="1.75" fill="#ef8a62"/>
<circle cx="455.50" cy="319.30" r="1.75" fill="#ef8a62"/>
<circle cx="463.90" cy="321.90" r="1.75" fill="#ef8a62"/>
<circle cx="442.40" cy="322.60" r="1.75" fill="#ef8a62"/>
<circle cx="445.30" cy="325.20" r="1.75" fill="#ef8a62"/>
<circle cx="447.50" cy="324.50" r="1.75" fill="#ef8a62"/>
<circle cx="451.90" cy="324.80" r="1.75" fill="#ef8a62"/>
<circle cx="454.80" cy="325.90" r="1.75" fill="#ef8a62"/>
<circle cx="458.50" cy="326.30" r="1.75" fill="#ef8a62"/>
<circle cx="438.80" cy="327.70" r="1.75" fill="#ef8a62"/>
<circle cx="443.10" cy="327.40" r="1.75" fill="#ef8a62"/>
<circle cx="446.40" cy="328.10" r="1.75" fill="#ef8a62"/>
<circle cx="446.80" cy="329.60" r="1.75" fill="#ef8a62"/>
<circle cx="439.50" cy="329.60" r="1.75" fill="#ef8a62"/>
<circle cx="459.60" cy="332.30" r="1.75" fill="#5ebc3e"/>
<circle cx="461.00" cy="336.70" r="1.75" fill="#5ebc3e"/>
<circle cx="465.40" cy="337.40" r="1.75" fill="#5ebc3e"/>
<circle cx="458.10" cy="339.60" r="1.75" fill="#5ebc3e"/>
<circle cx="461.80" cy="341.80" r="1.75" fill="#5ebc3e"/>
<circle cx="455.90" cy="341.80" r="1.75" fill="#5ebc3e"/>
<circle cx="458.80" cy="344.70" r="1.75" fill="#5ebc3e"/>
<circle cx="458.10" cy="348.40" r="1.75" fill="#5ebc3e"/>
<circle cx="451.50" cy="352.80" r="1.75" fill="#5ebc3e"/>
<circle cx="463.20" cy="353.90" r="1.75" fill="#5ebc3e"/>
<circle cx="447.20" cy="355.00" r="1.75" fill="#5ebc3e"/>
<circle cx="444.20" cy="357.90" r="1.75" fill="#5ebc3e"/>
<circle cx="453.00" cy="358.60" r="1.75" fill="#5ebc3e"/>
<circle cx="447.20" cy="364.50" r="1.75" fill="#5ebc3e"/>
<circle cx="450.80" cy="365.90" r="1.75" fill="#5ebc3e"/>
<circle cx="465.80" cy="337.60" r="1.75" fill="#5ebc3e"/>
<circle cx="462.10" cy="342.00" r="1.75" fill="#5ebc3e"/>
<circle cx="458.50" cy="348.20" r="1.75" fill="#5ebc3e"/>
<circle cx="445.94" cy="341.12" r="1.75" fill="#5ebc3e"/>
<circle cx="446.94" cy="341.52" r="1.75" fill="#5ebc3e"/>
<circle cx="441.12" cy="340.42" r="1.75" fill="#5ebc3e"/>
<circle cx="449.14" cy="344.50" r="1.75" fill="#5ebc3e"/>
<circle cx="439.49" cy="337.40" r="1.75" fill="#5ebc3e"/>
<circle cx="439.43" cy="344.74" r="1.75" fill="#5ebc3e"/>
<circle cx="450.28" cy="333.61" r="1.75" fill="#5ebc3e"/>
<circle cx="449.57" cy="341.93" r="1.75" fill="#5ebc3e"/>
<circle cx="440.63" cy="333.22" r="1.75" fill="#5ebc3e"/>
<circle cx="447.31" cy="333.86" r="1.75" fill="#5ebc3e"/>
<circle cx="441.22" cy="336.51" r="1.75" fill="#5ebc3e"/>
<circle cx="438.34" cy="339.73" r="1.75" fill="#5ebc3e"/>
<circle cx="445.73" cy="345.22" r="1.75" fill="#5ebc3e"/>
<circle cx="447.14" cy="342.28" r="1.75" fill="#5ebc3e"/>
<circle cx="446.80" cy="342.61" r="1.75" fill="#5ebc3e"/>
<circle cx="446.03" cy="337.03" r="1.75" fill="#5ebc3e"/>
<circle cx="443.47" cy="336.33" r="1.75" fill="#5ebc3e"/>
<circle cx="443.00" cy="334.02" r="1.75" fill="#5ebc3e"/>
<circle cx="451.59" cy="338.81" r="1.75" fill="#5ebc3e"/>
<circle cx="453.04" cy="338.60" r="1.75" fill="#5ebc3e"/>
<circle cx="437.81" cy="336.04" r="1.75" fill="#5ebc3e"/>
<circle cx="439.11" cy="342.13" r="1.75" fill="#5ebc3e"/>
<circle cx="451.81" cy="336.91" r="1.75" fill="#5ebc3e"/>
<circle cx="439.37" cy="337.82" r="1.75" fill="#5ebc3e"/>
<circle cx="439.92" cy="336.57" r="1.75" fill="#5ebc3e"/>
<circle cx="439.62" cy="333.87" r="1.75" fill="#5ebc3e"/>
<circle cx="452.15" cy="335.58" r="1.75" fill="#5ebc3e"/>
<circle cx="447.87" cy="339.49" r="1.75" fill="#5ebc3e"/>
<circle cx="441.23" cy="343.61" r="1.75" fill="#5ebc3e"/>
<circle cx="440.16" cy="342.33" r="1.75" fill="#5ebc3e"/>
<circle cx="439.90" cy="339.10" r="1.75" fill="#5ebc3e"/>
<circle cx="441.63" cy="336.91" r="1.75" fill="#5ebc3e"/>
<circle cx="443.27" cy="345.83" r="1.75" fill="#5ebc3e"/>
<circle cx="441.59" cy="338.72" r="1.75" fill="#5ebc3e"/>
<circle cx="439.61" cy="347.34" r="1.75" fill="#5ebc3e"/>
<circle cx="441.64" cy="336.75" r="1.75" fill="#5ebc3e"/>
<circle cx="451.71" cy="337.77" r="1.75" fill="#5ebc3e"/>
<circle cx="443.13" cy="334.06" r="1.75" fill="#5ebc3e"/>
<circle cx="439.42" cy="341.45" r="1.75" fill="#5ebc3e"/>
<circle cx="442.17" cy="341.72" r="1.75" fill="#5ebc3e"/>
<circle cx="444.49" cy="339.57" r="1.75" fill="#5ebc3e"/>
<circle cx="448.14" cy="345.56" r="1.75" fill="#5ebc3e"/>
<circle cx="441.09" cy="335.23" r="1.75" fill="#5ebc3e"/>
<circle cx="442.29" cy="335.75" r="1.75" fill="#5ebc3e"/>
<circle cx="441.34" cy="346.78" r="1.75" fill="#5ebc3e"/>
<circle cx="445.39" cy="334.51" r="1.75" fill="#5ebc3e"/>
<circle cx="438.50" cy="346.96" r="1.75" fill="#5ebc3e"/>
<circle cx="442.09" cy="343.22" r="1.75" fill="#5ebc3e"/>
<circle cx="442.43" cy="344.94" r="1.75" fill="#5ebc3e"/>
<circle cx="448.54" cy="337.25" r="1.75" fill="#5ebc3e"/>
<circle cx="440.96" cy="343.45" r="1.75" fill="#5ebc3e"/>
<circle cx="439.04" cy="336.31" r="1.75" fill="#5ebc3e"/>
<circle cx="447.87" cy="345.36" r="1.75" fill="#5ebc3e"/>
<circle cx="448.86" cy="337.06" r="1.75" fill="#5ebc3e"/>
<circle cx="454.31" cy="335.96" r="1.75" fill="#5ebc3e"/>
<circle cx="438.10" cy="336.90" r="1.75" fill="#5ebc3e"/>
<circle cx="445.82" cy="333.88" r="1.75" fill="#5ebc3e"/>
<circle cx="440.97" cy="338.35" r="1.75" fill="#5ebc3e"/>
<circle cx="448.10" cy="334.91" r="1.75" fill="#5ebc3e"/>
<circle cx="444.32" cy="345.92" r="1.75" fill="#5ebc3e"/>
<circle cx="440.33" cy="333.51" r="1.75" fill="#5ebc3e"/>
<circle cx="438.12" cy="346.20" r="1.75" fill="#5ebc3e"/>
<path d="M396.2,345.0 Q430,336.5 472,318.8 L472,329.8 Q430,343.5 396.2,359.6 Z" fill="#c2c2c2" opacity="0.7"/>
<line x1="396.40" y1="352.40" x2="472.00" y2="324.30" stroke="#000" stroke-width="3.50" stroke-linecap="butt"/>
<line x1="380.30" y1="273.00" x2="380.30" y2="392.60" stroke="#222222" stroke-width="2.00" stroke-linecap="butt"/>
<line x1="379.30" y1="391.60" x2="494.30" y2="391.60" stroke="#222222" stroke-width="2.00" stroke-linecap="butt"/>
<line x1="375.80" y1="386.10" x2="380.30" y2="386.10" stroke="#222222" stroke-width="1.50" stroke-linecap="butt"/>
<text x="374.30" y="389.50" font-size="9.50" text-anchor="end" fill="#222222" >−2</text>
<line x1="385.30" y1="391.60" x2="385.30" y2="396.10" stroke="#222222" stroke-width="1.50" stroke-linecap="butt"/>
<text x="385.30" y="404.50" font-size="9.50" text-anchor="middle" fill="#222222" >−2</text>
<line x1="375.80" y1="358.80" x2="380.30" y2="358.80" stroke="#222222" stroke-width="1.50" stroke-linecap="butt"/>
<text x="374.30" y="362.20" font-size="9.50" text-anchor="end" fill="#222222" >−1</text>
<line x1="411.10" y1="391.60" x2="411.10" y2="396.10" stroke="#222222" stroke-width="1.50" stroke-linecap="butt"/>
<text x="411.10" y="404.50" font-size="9.50" text-anchor="middle" fill="#222222" >−1</text>
<line x1="375.80" y1="331.50" x2="380.30" y2="331.50" stroke="#222222" stroke-width="1.50" stroke-linecap="butt"/>
<text x="374.30" y="334.90" font-size="9.50" text-anchor="end" fill="#222222" >0</text>
<line x1="436.90" y1="391.60" x2="436.90" y2="396.10" stroke="#222222" stroke-width="1.50" stroke-linecap="butt"/>
<text x="436.90" y="404.50" font-size="9.50" text-anchor="middle" fill="#222222" >0</text>
<line x1="375.80" y1="304.20" x2="380.30" y2="304.20" stroke="#222222" stroke-width="1.50" stroke-linecap="butt"/>
<text x="374.30" y="307.60" font-size="9.50" text-anchor="end" fill="#222222" >1</text>
<line x1="462.70" y1="391.60" x2="462.70" y2="396.10" stroke="#222222" stroke-width="1.50" stroke-linecap="butt"/>
<text x="462.70" y="404.50" font-size="9.50" text-anchor="middle" fill="#222222" >1</text>
<line x1="375.80" y1="276.90" x2="380.30" y2="276.90" stroke="#222222" stroke-width="1.50" stroke-linecap="butt"/>
<text x="374.30" y="280.30" font-size="9.50" text-anchor="end" fill="#222222" >2</text>
<line x1="488.50" y1="391.60" x2="488.50" y2="396.10" stroke="#222222" stroke-width="1.50" stroke-linecap="butt"/>
<text x="488.50" y="404.50" font-size="9.50" text-anchor="middle" fill="#222222" >2</text>
<text x="387.70" y="282.70" font-size="9.50" text-anchor="start" fill="#222222" >8%</text>
<text x="387.70" y="293.50" font-size="9.50" text-anchor="start" fill="#222222" >n=13</text>
<text x="464.60" y="282.70" font-size="9.50" text-anchor="start" fill="#222222" >28%</text>
<text x="464.60" y="293.50" font-size="9.50" text-anchor="start" fill="#222222" >n=47</text>
<text x="387.70" y="373.80" font-size="9.50" text-anchor="start" fill="#222222" >27%</text>
<text x="387.70" y="385.10" font-size="9.50" text-anchor="start" fill="#222222" >n=43</text>
<text x="464.60" y="373.80" font-size="9.50" text-anchor="start" fill="#222222" >35%</text>
<text x="464.60" y="385.10" font-size="9.50" text-anchor="start" fill="#222222" >n=56</text>
<text x="458.6" y="306.7" font-size="9.5" fill="#222222"><tspan font-style="italic">R</tspan><tspan dx="1.3">=</tspan><tspan dx="1.2">0.37</tspan></text>
<text x="400.50" y="422.00" font-size="9.50" text-anchor="start" fill="#222222" ><tspan font-size="9.50" dy="0.00">log</tspan><tspan font-size="5.89" dy="2.38">2</tspan><tspan font-size="9.50" dy="-2.38">(</tspan></text>
<line x1="420.50" y1="420.80" x2="469.00" y2="420.80" stroke="#222" stroke-width="0.90" stroke-linecap="butt"/>
<text x="469.50" y="422.00" font-size="9.50" text-anchor="start" fill="#222222" >)</text>
<text x="444.50" y="418.00" font-size="9.50" text-anchor="middle" fill="#222222" ><tspan font-size="9.50" dy="0.00">X</tspan><tspan font-size="5.89" dy="-3.61">Cast</tspan><tspan font-size="9.50" dy="3.61">O</tspan><tspan font-size="5.89" dy="-3.61">Mus</tspan></text>
<text x="444.00" y="432.50" font-size="9.50" text-anchor="middle" fill="#222222" ><tspan font-size="9.50" dy="0.00">X</tspan><tspan font-size="5.89" dy="-3.61">Cast</tspan><tspan font-size="9.50" dy="3.61">X</tspan><tspan font-size="5.89" dy="-3.61">Mus</tspan><tspan font-size="9.50" dy="3.61">/2</tspan></text>
<text x="437.50" y="443.50" font-size="9.50" text-anchor="middle" fill="#222222" >(proteomic fold change)</text>
<g transform="translate(338,332) rotate(-90)">
<text x="-35.00" y="0.00" font-size="9.50" text-anchor="start" fill="#222222" ><tspan font-size="9.50" dy="0.00">log</tspan><tspan font-size="5.89" dy="2.38">2</tspan><tspan font-size="9.50" dy="-2.38">(</tspan></text>
<line x1="-15.50" y1="-1.20" x2="34.00" y2="-1.20" stroke="#222" stroke-width="0.90" stroke-linecap="butt"/>
<text x="34.50" y="0.00" font-size="9.50" text-anchor="start" fill="#222222" >)</text>
<text x="9.50" y="-4.00" font-size="9.50" text-anchor="middle" fill="#222222" ><tspan font-size="9.50" dy="0.00">X</tspan><tspan font-size="5.89" dy="-3.61">Cast</tspan><tspan font-size="9.50" dy="3.61">O</tspan><tspan font-size="5.89" dy="-3.61">Mus</tspan></text>
<text x="9.00" y="10.50" font-size="9.50" text-anchor="middle" fill="#222222" ><tspan font-size="9.50" dy="0.00">X</tspan><tspan font-size="5.89" dy="-3.61">Cast</tspan><tspan font-size="9.50" dy="3.61">X</tspan><tspan font-size="5.89" dy="-3.61">Mus</tspan><tspan font-size="9.50" dy="3.61">/2</tspan></text>
</g>
<text x="360.80" y="335.00" font-size="9.50" text-anchor="middle" fill="#222222" transform="rotate(-90.00 360.80 335.00)" >(transcriptomic fold change)</text>
<text x="0.00" y="470.00" font-size="10.00" text-anchor="start" fill="#000" font-weight="bold" >g</text>
<text x="134.00" y="476.60" font-size="9.75" text-anchor="middle" fill="#222222" >Proteins encoded outside</text>
<text x="134.00" y="487.80" font-size="9.75" text-anchor="middle" fill="#222222" >deletion region</text>
<text x="46.50" y="496.60" font-size="9.90" text-anchor="start" fill="#222222" >1e7</text>
<text x="91.50" y="500.20" font-size="10.30" text-anchor="middle" fill="#222222" >E</text>
<text x="176.00" y="500.20" font-size="10.30" text-anchor="middle" fill="#222222" >K</text>
<line x1="56.00" y1="589.10" x2="128.20" y2="589.10" stroke="#888" stroke-width="0.80" stroke-linecap="butt" stroke-dasharray="3,2"/>
<circle cx="65.40" cy="588.60" r="3.30" fill="#5dbb3f" stroke="#1a1a1a" stroke-width="1.10"/>
<circle cx="72.60" cy="588.10" r="3.30" fill="#5dbb3f" stroke="#1a1a1a" stroke-width="1.10"/>
<circle cx="68.80" cy="592.40" r="3.30" fill="#5dbb3f" stroke="#1a1a1a" stroke-width="1.10"/>
<circle cx="80.80" cy="562.00" r="3.30" fill="#f0dc88" stroke="#1a1a1a" stroke-width="1.10"/>
<circle cx="88.40" cy="561.20" r="3.30" fill="#f0dc88" stroke="#1a1a1a" stroke-width="1.10"/>
<circle cx="84.60" cy="562.90" r="3.30" fill="#f0dc88" stroke="#1a1a1a" stroke-width="1.10"/>
<circle cx="95.20" cy="564.60" r="3.30" fill="#6ea8e4" stroke="#1a1a1a" stroke-width="1.10"/>
<circle cx="103.00" cy="566.70" r="3.30" fill="#6ea8e4" stroke="#1a1a1a" stroke-width="1.10"/>
<circle cx="99.20" cy="569.40" r="3.30" fill="#6ea8e4" stroke="#1a1a1a" stroke-width="1.10"/>
<circle cx="109.50" cy="584.90" r="3.30" fill="#80d2ba" stroke="#1a1a1a" stroke-width="1.10"/>
<circle cx="117.20" cy="584.00" r="3.30" fill="#80d2ba" stroke="#1a1a1a" stroke-width="1.10"/>
<circle cx="113.40" cy="587.80" r="3.30" fill="#80d2ba" stroke="#1a1a1a" stroke-width="1.10"/>
<rect x="56.00" y="505.40" width="72.20" height="144.80" fill="none" stroke="#111" stroke-width="2"/>
<line x1="51.00" y1="650.20" x2="56.00" y2="650.20" stroke="#222222" stroke-width="1.60" stroke-linecap="butt"/>
<text x="46.70" y="653.80" font-size="10.00" text-anchor="end" fill="#222222" >0.0</text>
<line x1="51.00" y1="621.25" x2="56.00" y2="621.25" stroke="#222222" stroke-width="1.60" stroke-linecap="butt"/>
<text x="46.70" y="624.85" font-size="10.00" text-anchor="end" fill="#222222" >0.5</text>
<line x1="51.00" y1="592.30" x2="56.00" y2="592.30" stroke="#222222" stroke-width="1.60" stroke-linecap="butt"/>
<text x="46.70" y="595.90" font-size="10.00" text-anchor="end" fill="#222222" >1.0</text>
<line x1="51.00" y1="563.35" x2="56.00" y2="563.35" stroke="#222222" stroke-width="1.60" stroke-linecap="butt"/>
<text x="46.70" y="566.95" font-size="10.00" text-anchor="end" fill="#222222" >1.5</text>
<line x1="51.00" y1="534.40" x2="56.00" y2="534.40" stroke="#222222" stroke-width="1.60" stroke-linecap="butt"/>
<text x="46.70" y="538.00" font-size="10.00" text-anchor="end" fill="#222222" >2.0</text>
<line x1="51.00" y1="505.45" x2="56.00" y2="505.45" stroke="#222222" stroke-width="1.60" stroke-linecap="butt"/>
<text x="46.70" y="509.05" font-size="10.00" text-anchor="end" fill="#222222" >2.5</text>
<line x1="70.00" y1="650.20" x2="70.00" y2="655.70" stroke="#222222" stroke-width="1.60" stroke-linecap="butt"/>
<text x="76.00" y="662.00" font-size="10.80" text-anchor="end" fill="#222222" transform="rotate(-60.00 76.00 662.00)" ><tspan font-size="10.80" dy="0.00">X</tspan><tspan font-size="5.62" dy="-3.56">Cast</tspan><tspan font-size="10.80" dy="3.56">X</tspan><tspan font-size="5.62" dy="-3.56">Mus</tspan></text>
<line x1="84.50" y1="650.20" x2="84.50" y2="655.70" stroke="#222222" stroke-width="1.60" stroke-linecap="butt"/>
<text x="90.50" y="662.00" font-size="10.80" text-anchor="end" fill="#222222" transform="rotate(-60.00 90.50 662.00)" ><tspan font-size="10.80" dy="0.00">X</tspan><tspan font-size="5.62" dy="-3.56">Mus</tspan><tspan font-size="10.80" dy="3.56">Y</tspan></text>
<line x1="99.00" y1="650.20" x2="99.00" y2="655.70" stroke="#222222" stroke-width="1.60" stroke-linecap="butt"/>
<text x="105.00" y="662.00" font-size="10.80" text-anchor="end" fill="#222222" transform="rotate(-60.00 105.00 662.00)" ><tspan font-size="10.80" dy="0.00">X</tspan><tspan font-size="5.62" dy="-3.56">Cast</tspan><tspan font-size="10.80" dy="3.56">O</tspan><tspan font-size="5.62" dy="-3.56">Mus</tspan></text>
<line x1="113.40" y1="650.20" x2="113.40" y2="655.70" stroke="#222222" stroke-width="1.60" stroke-linecap="butt"/>
<text x="120.00" y="662.00" font-size="9.90" text-anchor="end" fill="#222222" transform="rotate(-60.00 120.00 662.00)" ><tspan font-size="9.90" dy="0.00">Deletion E</tspan></text>
<line x1="139.90" y1="587.30" x2="212.30" y2="587.30" stroke="#888" stroke-width="0.80" stroke-linecap="butt" stroke-dasharray="3,2"/>
<circle cx="158.60" cy="585.30" r="3.30" fill="#5dbb3f" stroke="#1a1a1a" stroke-width="1.10"/>
<circle cx="154.90" cy="585.80" r="3.30" fill="#5dbb3f" stroke="#1a1a1a" stroke-width="1.10"/>
<circle cx="150.80" cy="589.40" r="3.30" fill="#5dbb3f" stroke="#1a1a1a" stroke-width="1.10"/>
<circle cx="165.10" cy="553.80" r="3.30" fill="#f0dc88" stroke="#1a1a1a" stroke-width="1.10"/>
<circle cx="168.90" cy="554.00" r="3.30" fill="#f0dc88" stroke="#1a1a1a" stroke-width="1.10"/>
<circle cx="172.60" cy="551.70" r="3.30" fill="#f0dc88" stroke="#1a1a1a" stroke-width="1.10"/>
<circle cx="179.60" cy="562.00" r="3.30" fill="#6ea8e4" stroke="#1a1a1a" stroke-width="1.10"/>
<circle cx="187.00" cy="560.10" r="3.30" fill="#6ea8e4" stroke="#1a1a1a" stroke-width="1.10"/>
<circle cx="183.20" cy="564.50" r="3.30" fill="#6ea8e4" stroke="#1a1a1a" stroke-width="1.10"/>
<circle cx="194.00" cy="585.50" r="3.30" fill="#e276c6" stroke="#1a1a1a" stroke-width="1.10"/>
<circle cx="201.60" cy="585.50" r="3.30" fill="#e276c6" stroke="#1a1a1a" stroke-width="1.10"/>
<circle cx="197.80" cy="587.30" r="3.30" fill="#e276c6" stroke="#1a1a1a" stroke-width="1.10"/>
<rect x="139.90" y="505.40" width="72.40" height="144.80" fill="none" stroke="#111" stroke-width="2"/>
<line x1="134.90" y1="650.20" x2="139.90" y2="650.20" stroke="#222222" stroke-width="1.60" stroke-linecap="butt"/>
<line x1="134.90" y1="621.25" x2="139.90" y2="621.25" stroke="#222222" stroke-width="1.60" stroke-linecap="butt"/>
<line x1="134.90" y1="592.30" x2="139.90" y2="592.30" stroke="#222222" stroke-width="1.60" stroke-linecap="butt"/>
<line x1="134.90" y1="563.35" x2="139.90" y2="563.35" stroke="#222222" stroke-width="1.60" stroke-linecap="butt"/>
<line x1="134.90" y1="534.40" x2="139.90" y2="534.40" stroke="#222222" stroke-width="1.60" stroke-linecap="butt"/>
<line x1="134.90" y1="505.45" x2="139.90" y2="505.45" stroke="#222222" stroke-width="1.60" stroke-linecap="butt"/>
<line x1="154.30" y1="650.20" x2="154.30" y2="655.70" stroke="#222222" stroke-width="1.60" stroke-linecap="butt"/>
<text x="160.30" y="662.00" font-size="10.80" text-anchor="end" fill="#222222" transform="rotate(-60.00 160.30 662.00)" ><tspan font-size="10.80" dy="0.00">X</tspan><tspan font-size="5.62" dy="-3.56">Cast</tspan><tspan font-size="10.80" dy="3.56">X</tspan><tspan font-size="5.62" dy="-3.56">Mus</tspan></text>
<line x1="168.70" y1="650.20" x2="168.70" y2="655.70" stroke="#222222" stroke-width="1.60" stroke-linecap="butt"/>
<text x="174.70" y="662.00" font-size="10.80" text-anchor="end" fill="#222222" transform="rotate(-60.00 174.70 662.00)" ><tspan font-size="10.80" dy="0.00">X</tspan><tspan font-size="5.62" dy="-3.56">Mus</tspan><tspan font-size="10.80" dy="3.56">Y</tspan></text>
<line x1="183.20" y1="650.20" x2="183.20" y2="655.70" stroke="#222222" stroke-width="1.60" stroke-linecap="butt"/>
<text x="189.20" y="662.00" font-size="10.80" text-anchor="end" fill="#222222" transform="rotate(-60.00 189.20 662.00)" ><tspan font-size="10.80" dy="0.00">X</tspan><tspan font-size="5.62" dy="-3.56">Cast</tspan><tspan font-size="10.80" dy="3.56">O</tspan><tspan font-size="5.62" dy="-3.56">Mus</tspan></text>
<line x1="197.60" y1="650.20" x2="197.60" y2="655.70" stroke="#222222" stroke-width="1.60" stroke-linecap="butt"/>
<text x="204.20" y="662.00" font-size="9.90" text-anchor="end" fill="#222222" transform="rotate(-60.00 204.20 662.00)" ><tspan font-size="9.90" dy="0.00">Deletion K</tspan></text>
<text x="14.60" y="577.40" font-size="9.75" text-anchor="middle" fill="#222222" transform="rotate(-90.00 14.60 577.40)" >Copy number-corrected</text>
<text x="26.60" y="577.40" font-size="9.75" text-anchor="middle" fill="#222222" transform="rotate(-90.00 26.60 577.40)" >mean protein abundance</text>
<text x="231.00" y="470.00" font-size="10.00" text-anchor="start" fill="#000" font-weight="bold" >h</text>
<text x="366.20" y="476.60" font-size="9.75" text-anchor="middle" fill="#222222" >Proteins encoded inside</text>
<text x="366.20" y="487.80" font-size="9.75" text-anchor="middle" fill="#222222" >deletion region</text>
<text x="278.70" y="496.60" font-size="9.90" text-anchor="start" fill="#222222" >1e7</text>
<text x="323.70" y="500.20" font-size="10.30" text-anchor="middle" fill="#222222" >E</text>
<text x="408.20" y="500.20" font-size="10.30" text-anchor="middle" fill="#222222" >K</text>
<line x1="288.20" y1="592.40" x2="360.40" y2="592.40" stroke="#888" stroke-width="0.80" stroke-linecap="butt" stroke-dasharray="3,2"/>
<circle cx="298.10" cy="592.40" r="3.30" fill="#5dbb3f" stroke="#1a1a1a" stroke-width="1.10"/>
<circle cx="305.80" cy="591.00" r="3.30" fill="#5dbb3f" stroke="#1a1a1a" stroke-width="1.10"/>
<circle cx="301.90" cy="593.20" r="3.30" fill="#5dbb3f" stroke="#1a1a1a" stroke-width="1.10"/>
<circle cx="312.70" cy="532.50" r="3.30" fill="#f0dc88" stroke="#1a1a1a" stroke-width="1.10"/>
<circle cx="316.30" cy="538.90" r="3.30" fill="#f0dc88" stroke="#1a1a1a" stroke-width="1.10"/>
<circle cx="320.00" cy="539.60" r="3.30" fill="#f0dc88" stroke="#1a1a1a" stroke-width="1.10"/>
<circle cx="327.00" cy="565.90" r="3.30" fill="#6ea8e4" stroke="#1a1a1a" stroke-width="1.10"/>
<circle cx="334.40" cy="565.00" r="3.30" fill="#6ea8e4" stroke="#1a1a1a" stroke-width="1.10"/>
<circle cx="330.90" cy="566.50" r="3.30" fill="#6ea8e4" stroke="#1a1a1a" stroke-width="1.10"/>
<circle cx="341.40" cy="554.70" r="3.30" fill="#80d2ba" stroke="#1a1a1a" stroke-width="1.10"/>
<circle cx="349.00" cy="556.60" r="3.30" fill="#80d2ba" stroke="#1a1a1a" stroke-width="1.10"/>
<circle cx="345.10" cy="560.10" r="3.30" fill="#80d2ba" stroke="#1a1a1a" stroke-width="1.10"/>
<rect x="288.20" y="505.40" width="72.20" height="144.80" fill="none" stroke="#111" stroke-width="2"/>
<line x1="283.20" y1="650.20" x2="288.20" y2="650.20" stroke="#222222" stroke-width="1.60" stroke-linecap="butt"/>
<text x="278.90" y="653.80" font-size="10.00" text-anchor="end" fill="#222222" >0.0</text>
<line x1="283.20" y1="621.25" x2="288.20" y2="621.25" stroke="#222222" stroke-width="1.60" stroke-linecap="butt"/>
<text x="278.90" y="624.85" font-size="10.00" text-anchor="end" fill="#222222" >0.5</text>
<line x1="283.20" y1="592.30" x2="288.20" y2="592.30" stroke="#222222" stroke-width="1.60" stroke-linecap="butt"/>
<text x="278.90" y="595.90" font-size="10.00" text-anchor="end" fill="#222222" >1.0</text>
<line x1="283.20" y1="563.35" x2="288.20" y2="563.35" stroke="#222222" stroke-width="1.60" stroke-linecap="butt"/>
<text x="278.90" y="566.95" font-size="10.00" text-anchor="end" fill="#222222" >1.5</text>
<line x1="283.20" y1="534.40" x2="288.20" y2="534.40" stroke="#222222" stroke-width="1.60" stroke-linecap="butt"/>
<text x="278.90" y="538.00" font-size="10.00" text-anchor="end" fill="#222222" >2.0</text>
<line x1="283.20" y1="505.45" x2="288.20" y2="505.45" stroke="#222222" stroke-width="1.60" stroke-linecap="butt"/>
<text x="278.90" y="509.05" font-size="10.00" text-anchor="end" fill="#222222" >2.5</text>
<line x1="302.20" y1="650.20" x2="302.20" y2="655.70" stroke="#222222" stroke-width="1.60" stroke-linecap="butt"/>
<text x="308.20" y="662.00" font-size="10.80" text-anchor="end" fill="#222222" transform="rotate(-60.00 308.20 662.00)" ><tspan font-size="10.80" dy="0.00">X</tspan><tspan font-size="5.62" dy="-3.56">Cast</tspan><tspan font-size="10.80" dy="3.56">X</tspan><tspan font-size="5.62" dy="-3.56">Mus</tspan></text>
<line x1="316.70" y1="650.20" x2="316.70" y2="655.70" stroke="#222222" stroke-width="1.60" stroke-linecap="butt"/>
<text x="322.70" y="662.00" font-size="10.80" text-anchor="end" fill="#222222" transform="rotate(-60.00 322.70 662.00)" ><tspan font-size="10.80" dy="0.00">X</tspan><tspan font-size="5.62" dy="-3.56">Mus</tspan><tspan font-size="10.80" dy="3.56">Y</tspan></text>
<line x1="331.20" y1="650.20" x2="331.20" y2="655.70" stroke="#222222" stroke-width="1.60" stroke-linecap="butt"/>
<text x="337.20" y="662.00" font-size="10.80" text-anchor="end" fill="#222222" transform="rotate(-60.00 337.20 662.00)" ><tspan font-size="10.80" dy="0.00">X</tspan><tspan font-size="5.62" dy="-3.56">Cast</tspan><tspan font-size="10.80" dy="3.56">O</tspan><tspan font-size="5.62" dy="-3.56">Mus</tspan></text>
<line x1="345.60" y1="650.20" x2="345.60" y2="655.70" stroke="#222222" stroke-width="1.60" stroke-linecap="butt"/>
<text x="352.20" y="662.00" font-size="9.90" text-anchor="end" fill="#222222" transform="rotate(-60.00 352.20 662.00)" ><tspan font-size="9.90" dy="0.00">Deletion E</tspan></text>
<line x1="372.10" y1="624.50" x2="444.50" y2="624.50" stroke="#888" stroke-width="0.80" stroke-linecap="butt" stroke-dasharray="3,2"/>
<circle cx="382.50" cy="624.50" r="3.30" fill="#5dbb3f" stroke="#1a1a1a" stroke-width="1.10"/>
<circle cx="389.90" cy="624.50" r="3.30" fill="#5dbb3f" stroke="#1a1a1a" stroke-width="1.10"/>
<circle cx="386.30" cy="624.50" r="3.30" fill="#5dbb3f" stroke="#1a1a1a" stroke-width="1.10"/>
<circle cx="397.10" cy="613.70" r="3.30" fill="#f0dc88" stroke="#1a1a1a" stroke-width="1.10"/>
<circle cx="404.40" cy="613.40" r="3.30" fill="#f0dc88" stroke="#1a1a1a" stroke-width="1.10"/>
<circle cx="400.60" cy="616.30" r="3.30" fill="#f0dc88" stroke="#1a1a1a" stroke-width="1.10"/>
<circle cx="411.70" cy="619.20" r="3.30" fill="#6ea8e4" stroke="#1a1a1a" stroke-width="1.10"/>
<circle cx="418.50" cy="619.00" r="3.30" fill="#6ea8e4" stroke="#1a1a1a" stroke-width="1.10"/>
<circle cx="415.00" cy="619.40" r="3.30" fill="#6ea8e4" stroke="#1a1a1a" stroke-width="1.10"/>
<circle cx="425.70" cy="617.70" r="3.30" fill="#e276c6" stroke="#1a1a1a" stroke-width="1.10"/>
<circle cx="433.30" cy="615.90" r="3.30" fill="#e276c6" stroke="#1a1a1a" stroke-width="1.10"/>
<circle cx="429.60" cy="619.80" r="3.30" fill="#e276c6" stroke="#1a1a1a" stroke-width="1.10"/>
<rect x="372.10" y="505.40" width="72.40" height="144.80" fill="none" stroke="#111" stroke-width="2"/>
<line x1="367.10" y1="650.20" x2="372.10" y2="650.20" stroke="#222222" stroke-width="1.60" stroke-linecap="butt"/>
<line x1="367.10" y1="621.25" x2="372.10" y2="621.25" stroke="#222222" stroke-width="1.60" stroke-linecap="butt"/>
<line x1="367.10" y1="592.30" x2="372.10" y2="592.30" stroke="#222222" stroke-width="1.60" stroke-linecap="butt"/>
<line x1="367.10" y1="563.35" x2="372.10" y2="563.35" stroke="#222222" stroke-width="1.60" stroke-linecap="butt"/>
<line x1="367.10" y1="534.40" x2="372.10" y2="534.40" stroke="#222222" stroke-width="1.60" stroke-linecap="butt"/>
<line x1="367.10" y1="505.45" x2="372.10" y2="505.45" stroke="#222222" stroke-width="1.60" stroke-linecap="butt"/>
<line x1="386.50" y1="650.20" x2="386.50" y2="655.70" stroke="#222222" stroke-width="1.60" stroke-linecap="butt"/>
<text x="392.50" y="662.00" font-size="10.80" text-anchor="end" fill="#222222" transform="rotate(-60.00 392.50 662.00)" ><tspan font-size="10.80" dy="0.00">X</tspan><tspan font-size="5.62" dy="-3.56">Cast</tspan><tspan font-size="10.80" dy="3.56">X</tspan><tspan font-size="5.62" dy="-3.56">Mus</tspan></text>
<line x1="400.90" y1="650.20" x2="400.90" y2="655.70" stroke="#222222" stroke-width="1.60" stroke-linecap="butt"/>
<text x="406.90" y="662.00" font-size="10.80" text-anchor="end" fill="#222222" transform="rotate(-60.00 406.90 662.00)" ><tspan font-size="10.80" dy="0.00">X</tspan><tspan font-size="5.62" dy="-3.56">Mus</tspan><tspan font-size="10.80" dy="3.56">Y</tspan></text>
<line x1="415.40" y1="650.20" x2="415.40" y2="655.70" stroke="#222222" stroke-width="1.60" stroke-linecap="butt"/>
<text x="421.40" y="662.00" font-size="10.80" text-anchor="end" fill="#222222" transform="rotate(-60.00 421.40 662.00)" ><tspan font-size="10.80" dy="0.00">X</tspan><tspan font-size="5.62" dy="-3.56">Cast</tspan><tspan font-size="10.80" dy="3.56">O</tspan><tspan font-size="5.62" dy="-3.56">Mus</tspan></text>
<line x1="429.80" y1="650.20" x2="429.80" y2="655.70" stroke="#222222" stroke-width="1.60" stroke-linecap="butt"/>
<text x="436.40" y="662.00" font-size="9.90" text-anchor="end" fill="#222222" transform="rotate(-60.00 436.40 662.00)" ><tspan font-size="9.90" dy="0.00">Deletion K</tspan></text>
<text x="246.80" y="577.40" font-size="9.75" text-anchor="middle" fill="#222222" transform="rotate(-90.00 246.80 577.40)" >Copy number-corrected</text>
<text x="258.80" y="577.40" font-size="9.75" text-anchor="middle" fill="#222222" transform="rotate(-90.00 258.80 577.40)" >mean protein abundance</text>
<text x="497.70" y="263.00" font-size="10.00" text-anchor="start" fill="#000" font-weight="bold" >i</text>
<rect x="557.20" y="307.30" width="6.46" height="9.06" fill="#d4d9e4"/>
<rect x="563.31" y="307.30" width="6.46" height="9.06" fill="#b9caea"/>
<rect x="569.43" y="307.30" width="6.46" height="9.06" fill="#c2cfe8"/>
<rect x="575.54" y="307.30" width="6.46" height="9.06" fill="#be2833"/>
<rect x="581.65" y="307.30" width="6.46" height="9.06" fill="#f09677"/>
<rect x="587.77" y="307.30" width="6.46" height="9.06" fill="#e46e59"/>
<rect x="593.88" y="307.30" width="6.46" height="9.06" fill="#e5d6d1"/>
<rect x="599.99" y="307.30" width="6.46" height="9.06" fill="#e8d4cc"/>
<rect x="606.11" y="307.30" width="6.46" height="9.06" fill="#ead3c8"/>
<rect x="612.22" y="307.30" width="6.46" height="9.06" fill="#92ace4"/>
<rect x="618.33" y="307.30" width="6.46" height="9.06" fill="#a1b9e8"/>
<rect x="624.45" y="307.30" width="6.46" height="9.06" fill="#b9caea"/>
<rect x="630.56" y="307.30" width="6.46" height="9.06" fill="#b9caea"/>
<rect x="636.67" y="307.30" width="6.46" height="9.06" fill="#a8bfea"/>
<rect x="642.79" y="307.30" width="6.46" height="9.06" fill="#b9caea"/>
<text x="650.60" y="313.76" font-size="6.85" text-anchor="start" fill="#222" >CCDC22</text>
<rect x="557.20" y="316.01" width="6.46" height="9.06" fill="#a1b9e8"/>
<rect x="563.31" y="316.01" width="6.46" height="9.06" fill="#a8bfea"/>
<rect x="569.43" y="316.01" width="6.46" height="9.06" fill="#b0c5ec"/>
<rect x="575.54" y="316.01" width="6.46" height="9.06" fill="#f5a887"/>
<rect x="581.65" y="316.01" width="6.46" height="9.06" fill="#f39f7f"/>
<rect x="587.77" y="316.01" width="6.46" height="9.06" fill="#f5a887"/>
<rect x="593.88" y="316.01" width="6.46" height="9.06" fill="#e97a60"/>
<rect x="599.99" y="316.01" width="6.46" height="9.06" fill="#ee8c70"/>
<rect x="606.11" y="316.01" width="6.46" height="9.06" fill="#e97a60"/>
<rect x="612.22" y="316.01" width="6.46" height="9.06" fill="#b0c5ec"/>
<rect x="618.33" y="316.01" width="6.46" height="9.06" fill="#b9caea"/>
<rect x="624.45" y="316.01" width="6.46" height="9.06" fill="#a8bfea"/>
<rect x="630.56" y="316.01" width="6.46" height="9.06" fill="#b9caea"/>
<rect x="636.67" y="316.01" width="6.46" height="9.06" fill="#b9caea"/>
<rect x="642.79" y="316.01" width="6.46" height="9.06" fill="#a8bfea"/>
<text x="650.60" y="322.47" font-size="6.85" text-anchor="start" fill="#222" >PQBP1</text>
<rect x="557.20" y="324.72" width="6.46" height="9.06" fill="#b9caea"/>
<rect x="563.31" y="324.72" width="6.46" height="9.06" fill="#dddee2"/>
<rect x="569.43" y="324.72" width="6.46" height="9.06" fill="#a8bfea"/>
<rect x="575.54" y="324.72" width="6.46" height="9.06" fill="#be2833"/>
<rect x="581.65" y="324.72" width="6.46" height="9.06" fill="#ead3c8"/>
<rect x="587.77" y="324.72" width="6.46" height="9.06" fill="#df6352"/>
<rect x="593.88" y="324.72" width="6.46" height="9.06" fill="#f5a887"/>
<rect x="599.99" y="324.72" width="6.46" height="9.06" fill="#e5d6d1"/>
<rect x="606.11" y="324.72" width="6.46" height="9.06" fill="#eecfc0"/>
<rect x="612.22" y="324.72" width="6.46" height="9.06" fill="#99b2e6"/>
<rect x="618.33" y="324.72" width="6.46" height="9.06" fill="#a8bfea"/>
<rect x="624.45" y="324.72" width="6.46" height="9.06" fill="#d4d9e4"/>
<rect x="630.56" y="324.72" width="6.46" height="9.06" fill="#b9caea"/>
<rect x="636.67" y="324.72" width="6.46" height="9.06" fill="#92ace4"/>
<rect x="642.79" y="324.72" width="6.46" height="9.06" fill="#b9caea"/>
<text x="650.60" y="331.18" font-size="6.85" text-anchor="start" fill="#222" >HDAC6</text>
<rect x="557.20" y="333.43" width="6.46" height="9.06" fill="#b0c5ec"/>
<rect x="563.31" y="333.43" width="6.46" height="9.06" fill="#b9caea"/>
<rect x="569.43" y="333.43" width="6.46" height="9.06" fill="#b9caea"/>
<rect x="575.54" y="333.43" width="6.46" height="9.06" fill="#f09677"/>
<rect x="581.65" y="333.43" width="6.46" height="9.06" fill="#be2833"/>
<rect x="587.77" y="333.43" width="6.46" height="9.06" fill="#e46e59"/>
<rect x="593.88" y="333.43" width="6.46" height="9.06" fill="#dddee2"/>
<rect x="599.99" y="333.43" width="6.46" height="9.06" fill="#eecfc0"/>
<rect x="606.11" y="333.43" width="6.46" height="9.06" fill="#f4b69a"/>
<rect x="612.22" y="333.43" width="6.46" height="9.06" fill="#b9caea"/>
<rect x="618.33" y="333.43" width="6.46" height="9.06" fill="#c2cfe8"/>
<rect x="624.45" y="333.43" width="6.46" height="9.06" fill="#c2cfe8"/>
<rect x="630.56" y="333.43" width="6.46" height="9.06" fill="#b0c5ec"/>
<rect x="636.67" y="333.43" width="6.46" height="9.06" fill="#b9caea"/>
<rect x="642.79" y="333.43" width="6.46" height="9.06" fill="#99b2e6"/>
<text x="650.60" y="339.89" font-size="6.85" text-anchor="start" fill="#222" >RBM3</text>
<rect x="557.20" y="342.14" width="6.46" height="9.06" fill="#b0c5ec"/>
<rect x="563.31" y="342.14" width="6.46" height="9.06" fill="#b0c5ec"/>
<rect x="569.43" y="342.14" width="6.46" height="9.06" fill="#a8bfea"/>
<rect x="575.54" y="342.14" width="6.46" height="9.06" fill="#e97a60"/>
<rect x="581.65" y="342.14" width="6.46" height="9.06" fill="#df6352"/>
<rect x="587.77" y="342.14" width="6.46" height="9.06" fill="#d54c45"/>
<rect x="593.88" y="342.14" width="6.46" height="9.06" fill="#f4b69a"/>
<rect x="599.99" y="342.14" width="6.46" height="9.06" fill="#ead3c8"/>
<rect x="606.11" y="342.14" width="6.46" height="9.06" fill="#eecfc0"/>
<rect x="612.22" y="342.14" width="6.46" height="9.06" fill="#c2cfe8"/>
<rect x="618.33" y="342.14" width="6.46" height="9.06" fill="#b9caea"/>
<rect x="624.45" y="342.14" width="6.46" height="9.06" fill="#a1b9e8"/>
<rect x="630.56" y="342.14" width="6.46" height="9.06" fill="#b0c5ec"/>
<rect x="636.67" y="342.14" width="6.46" height="9.06" fill="#b9caea"/>
<rect x="642.79" y="342.14" width="6.46" height="9.06" fill="#b9caea"/>
<text x="650.60" y="348.60" font-size="6.85" text-anchor="start" fill="#222" >MED14</text>
<rect x="557.20" y="350.85" width="6.46" height="9.06" fill="#b0c5ec"/>
<rect x="563.31" y="350.85" width="6.46" height="9.06" fill="#b9caea"/>
<rect x="569.43" y="350.85" width="6.46" height="9.06" fill="#b0c5ec"/>
<rect x="575.54" y="350.85" width="6.46" height="9.06" fill="#e97a60"/>
<rect x="581.65" y="350.85" width="6.46" height="9.06" fill="#f39f7f"/>
<rect x="587.77" y="350.85" width="6.46" height="9.06" fill="#ee8c70"/>
<rect x="593.88" y="350.85" width="6.46" height="9.06" fill="#f39f7f"/>
<rect x="599.99" y="350.85" width="6.46" height="9.06" fill="#f5a887"/>
<rect x="606.11" y="350.85" width="6.46" height="9.06" fill="#f39f7f"/>
<rect x="612.22" y="350.85" width="6.46" height="9.06" fill="#b0c5ec"/>
<rect x="618.33" y="350.85" width="6.46" height="9.06" fill="#b0c5ec"/>
<rect x="624.45" y="350.85" width="6.46" height="9.06" fill="#b9caea"/>
<rect x="630.56" y="350.85" width="6.46" height="9.06" fill="#a8bfea"/>
<rect x="636.67" y="350.85" width="6.46" height="9.06" fill="#a8bfea"/>
<rect x="642.79" y="350.85" width="6.46" height="9.06" fill="#b0c5ec"/>
<text x="650.60" y="357.31" font-size="6.85" text-anchor="start" fill="#222" >DDX3X</text>
<rect x="557.20" y="359.56" width="6.46" height="9.06" fill="#99b2e6"/>
<rect x="563.31" y="359.56" width="6.46" height="9.06" fill="#8aa6e2"/>
<rect x="569.43" y="359.56" width="6.46" height="9.06" fill="#99b2e6"/>
<rect x="575.54" y="359.56" width="6.46" height="9.06" fill="#eecfc0"/>
<rect x="581.65" y="359.56" width="6.46" height="9.06" fill="#e97a60"/>
<rect x="587.77" y="359.56" width="6.46" height="9.06" fill="#e1dad9"/>
<rect x="593.88" y="359.56" width="6.46" height="9.06" fill="#e46e59"/>
<rect x="599.99" y="359.56" width="6.46" height="9.06" fill="#f2cbb7"/>
<rect x="606.11" y="359.56" width="6.46" height="9.06" fill="#f5a887"/>
<rect x="612.22" y="359.56" width="6.46" height="9.06" fill="#e5d6d1"/>
<rect x="618.33" y="359.56" width="6.46" height="9.06" fill="#dddee2"/>
<rect x="624.45" y="359.56" width="6.46" height="9.06" fill="#83a0df"/>
<rect x="630.56" y="359.56" width="6.46" height="9.06" fill="#b9caea"/>
<rect x="636.67" y="359.56" width="6.46" height="9.06" fill="#e1dad9"/>
<rect x="642.79" y="359.56" width="6.46" height="9.06" fill="#e5d6d1"/>
<text x="650.60" y="366.02" font-size="6.85" text-anchor="start" fill="#222" >KDM6A</text>
<rect x="557.20" y="368.27" width="6.46" height="9.06" fill="#b0c5ec"/>
<rect x="563.31" y="368.27" width="6.46" height="9.06" fill="#b0c5ec"/>
<rect x="569.43" y="368.27" width="6.46" height="9.06" fill="#b9caea"/>
<rect x="575.54" y="368.27" width="6.46" height="9.06" fill="#be2833"/>
<rect x="581.65" y="368.27" width="6.46" height="9.06" fill="#f5a887"/>
<rect x="587.77" y="368.27" width="6.46" height="9.06" fill="#d0403e"/>
<rect x="593.88" y="368.27" width="6.46" height="9.06" fill="#f3bda4"/>
<rect x="599.99" y="368.27" width="6.46" height="9.06" fill="#d4d9e4"/>
<rect x="606.11" y="368.27" width="6.46" height="9.06" fill="#e1dad9"/>
<rect x="612.22" y="368.27" width="6.46" height="9.06" fill="#b0c5ec"/>
<rect x="618.33" y="368.27" width="6.46" height="9.06" fill="#b0c5ec"/>
<rect x="624.45" y="368.27" width="6.46" height="9.06" fill="#b9caea"/>
<rect x="630.56" y="368.27" width="6.46" height="9.06" fill="#b9caea"/>
<rect x="636.67" y="368.27" width="6.46" height="9.06" fill="#d4d9e4"/>
<rect x="642.79" y="368.27" width="6.46" height="9.06" fill="#c2cfe8"/>
<text x="650.60" y="374.73" font-size="6.85" text-anchor="start" fill="#222" >CDK16</text>
<rect x="557.20" y="376.98" width="6.46" height="9.06" fill="#b9caea"/>
<rect x="563.31" y="376.98" width="6.46" height="9.06" fill="#c2cfe8"/>
<rect x="569.43" y="376.98" width="6.46" height="9.06" fill="#99b2e6"/>
<rect x="575.54" y="376.98" width="6.46" height="9.06" fill="#da574c"/>
<rect x="581.65" y="376.98" width="6.46" height="9.06" fill="#f4b69a"/>
<rect x="587.77" y="376.98" width="6.46" height="9.06" fill="#ee8c70"/>
<rect x="593.88" y="376.98" width="6.46" height="9.06" fill="#f5a887"/>
<rect x="599.99" y="376.98" width="6.46" height="9.06" fill="#f3bda4"/>
<rect x="606.11" y="376.98" width="6.46" height="9.06" fill="#f4b69a"/>
<rect x="612.22" y="376.98" width="6.46" height="9.06" fill="#b0c5ec"/>
<rect x="618.33" y="376.98" width="6.46" height="9.06" fill="#92ace4"/>
<rect x="624.45" y="376.98" width="6.46" height="9.06" fill="#b0c5ec"/>
<rect x="630.56" y="376.98" width="6.46" height="9.06" fill="#d4d9e4"/>
<rect x="636.67" y="376.98" width="6.46" height="9.06" fill="#c2cfe8"/>
<rect x="642.79" y="376.98" width="6.46" height="9.06" fill="#cbd4e6"/>
<text x="650.60" y="383.44" font-size="6.85" text-anchor="start" fill="#222" >UBE2A</text>
<rect x="557.20" y="385.69" width="6.46" height="9.06" fill="#a8bfea"/>
<rect x="563.31" y="385.69" width="6.46" height="9.06" fill="#b0c5ec"/>
<rect x="569.43" y="385.69" width="6.46" height="9.06" fill="#a8bfea"/>
<rect x="575.54" y="385.69" width="6.46" height="9.06" fill="#f39f7f"/>
<rect x="581.65" y="385.69" width="6.46" height="9.06" fill="#f39f7f"/>
<rect x="587.77" y="385.69" width="6.46" height="9.06" fill="#df6352"/>
<rect x="593.88" y="385.69" width="6.46" height="9.06" fill="#f5a887"/>
<rect x="599.99" y="385.69" width="6.46" height="9.06" fill="#ead3c8"/>
<rect x="606.11" y="385.69" width="6.46" height="9.06" fill="#f09677"/>
<rect x="612.22" y="385.69" width="6.46" height="9.06" fill="#b9caea"/>
<rect x="618.33" y="385.69" width="6.46" height="9.06" fill="#b9caea"/>
<rect x="624.45" y="385.69" width="6.46" height="9.06" fill="#d4d9e4"/>
<rect x="630.56" y="385.69" width="6.46" height="9.06" fill="#b0c5ec"/>
<rect x="636.67" y="385.69" width="6.46" height="9.06" fill="#a8bfea"/>
<rect x="642.79" y="385.69" width="6.46" height="9.06" fill="#a8bfea"/>
<text x="650.60" y="392.15" font-size="6.85" text-anchor="start" fill="#222" >RPL39</text>
<rect x="557.20" y="394.40" width="6.46" height="9.06" fill="#b9caea"/>
<rect x="563.31" y="394.40" width="6.46" height="9.06" fill="#c2cfe8"/>
<rect x="569.43" y="394.40" width="6.46" height="9.06" fill="#b0c5ec"/>
<rect x="575.54" y="394.40" width="6.46" height="9.06" fill="#be2833"/>
<rect x="581.65" y="394.40" width="6.46" height="9.06" fill="#f4af91"/>
<rect x="587.77" y="394.40" width="6.46" height="9.06" fill="#e46e59"/>
<rect x="593.88" y="394.40" width="6.46" height="9.06" fill="#f3bda4"/>
<rect x="599.99" y="394.40" width="6.46" height="9.06" fill="#ead3c8"/>
<rect x="606.11" y="394.40" width="6.46" height="9.06" fill="#eecfc0"/>
<rect x="612.22" y="394.40" width="6.46" height="9.06" fill="#a8bfea"/>
<rect x="618.33" y="394.40" width="6.46" height="9.06" fill="#a8bfea"/>
<rect x="624.45" y="394.40" width="6.46" height="9.06" fill="#b9caea"/>
<rect x="630.56" y="394.40" width="6.46" height="9.06" fill="#b0c5ec"/>
<rect x="636.67" y="394.40" width="6.46" height="9.06" fill="#a1b9e8"/>
<rect x="642.79" y="394.40" width="6.46" height="9.06" fill="#b0c5ec"/>
<text x="650.60" y="400.86" font-size="6.85" text-anchor="start" fill="#222" >CUL4B</text>
<rect x="557.20" y="403.11" width="6.46" height="9.06" fill="#c2cfe8"/>
<rect x="563.31" y="403.11" width="6.46" height="9.06" fill="#c2cfe8"/>
<rect x="569.43" y="403.11" width="6.46" height="9.06" fill="#b9caea"/>
<rect x="575.54" y="403.11" width="6.46" height="9.06" fill="#be2833"/>
<rect x="581.65" y="403.11" width="6.46" height="9.06" fill="#f3c4ad"/>
<rect x="587.77" y="403.11" width="6.46" height="9.06" fill="#f09677"/>
<rect x="593.88" y="403.11" width="6.46" height="9.06" fill="#f5a887"/>
<rect x="599.99" y="403.11" width="6.46" height="9.06" fill="#e1dad9"/>
<rect x="606.11" y="403.11" width="6.46" height="9.06" fill="#f4b69a"/>
<rect x="612.22" y="403.11" width="6.46" height="9.06" fill="#92ace4"/>
<rect x="618.33" y="403.11" width="6.46" height="9.06" fill="#92ace4"/>
<rect x="624.45" y="403.11" width="6.46" height="9.06" fill="#b9caea"/>
<rect x="630.56" y="403.11" width="6.46" height="9.06" fill="#b9caea"/>
<rect x="636.67" y="403.11" width="6.46" height="9.06" fill="#a1b9e8"/>
<rect x="642.79" y="403.11" width="6.46" height="9.06" fill="#b9caea"/>
<text x="650.60" y="409.57" font-size="6.85" text-anchor="start" fill="#222" >MCTS1</text>
<rect x="557.20" y="411.82" width="6.46" height="9.06" fill="#a1b9e8"/>
<rect x="563.31" y="411.82" width="6.46" height="9.06" fill="#a1b9e8"/>
<rect x="569.43" y="411.82" width="6.46" height="9.06" fill="#a8bfea"/>
<rect x="575.54" y="411.82" width="6.46" height="9.06" fill="#f4b69a"/>
<rect x="581.65" y="411.82" width="6.46" height="9.06" fill="#f09677"/>
<rect x="587.77" y="411.82" width="6.46" height="9.06" fill="#f09677"/>
<rect x="593.88" y="411.82" width="6.46" height="9.06" fill="#eb8368"/>
<rect x="599.99" y="411.82" width="6.46" height="9.06" fill="#eb8368"/>
<rect x="606.11" y="411.82" width="6.46" height="9.06" fill="#f09677"/>
<rect x="612.22" y="411.82" width="6.46" height="9.06" fill="#b9caea"/>
<rect x="618.33" y="411.82" width="6.46" height="9.06" fill="#b9caea"/>
<rect x="624.45" y="411.82" width="6.46" height="9.06" fill="#a1b9e8"/>
<rect x="630.56" y="411.82" width="6.46" height="9.06" fill="#b0c5ec"/>
<rect x="636.67" y="411.82" width="6.46" height="9.06" fill="#b9caea"/>
<rect x="642.79" y="411.82" width="6.46" height="9.06" fill="#b0c5ec"/>
<text x="650.60" y="418.28" font-size="6.85" text-anchor="start" fill="#222" >SMARCA1</text>
<rect x="557.20" y="420.53" width="6.46" height="9.06" fill="#b0c5ec"/>
<rect x="563.31" y="420.53" width="6.46" height="9.06" fill="#a8bfea"/>
<rect x="569.43" y="420.53" width="6.46" height="9.06" fill="#b9caea"/>
<rect x="575.54" y="420.53" width="6.46" height="9.06" fill="#f5a887"/>
<rect x="581.65" y="420.53" width="6.46" height="9.06" fill="#b2182b"/>
<rect x="587.77" y="420.53" width="6.46" height="9.06" fill="#da574c"/>
<rect x="593.88" y="420.53" width="6.46" height="9.06" fill="#d4d9e4"/>
<rect x="599.99" y="420.53" width="6.46" height="9.06" fill="#dddee2"/>
<rect x="606.11" y="420.53" width="6.46" height="9.06" fill="#c2cfe8"/>
<rect x="612.22" y="420.53" width="6.46" height="9.06" fill="#dddee2"/>
<rect x="618.33" y="420.53" width="6.46" height="9.06" fill="#dddee2"/>
<rect x="624.45" y="420.53" width="6.46" height="9.06" fill="#a8bfea"/>
<rect x="630.56" y="420.53" width="6.46" height="9.06" fill="#b9caea"/>
<rect x="636.67" y="420.53" width="6.46" height="9.06" fill="#cbd4e6"/>
<rect x="642.79" y="420.53" width="6.46" height="9.06" fill="#b9caea"/>
<text x="650.60" y="426.99" font-size="6.85" text-anchor="start" fill="#222" >UTP14A</text>
<rect x="557.20" y="429.24" width="6.46" height="9.06" fill="#92ace4"/>
<rect x="563.31" y="429.24" width="6.46" height="9.06" fill="#a1b9e8"/>
<rect x="569.43" y="429.24" width="6.46" height="9.06" fill="#b0c5ec"/>
<rect x="575.54" y="429.24" width="6.46" height="9.06" fill="#f4b69a"/>
<rect x="581.65" y="429.24" width="6.46" height="9.06" fill="#c43036"/>
<rect x="587.77" y="429.24" width="6.46" height="9.06" fill="#da574c"/>
<rect x="593.88" y="429.24" width="6.46" height="9.06" fill="#e5d6d1"/>
<rect x="599.99" y="429.24" width="6.46" height="9.06" fill="#e5d6d1"/>
<rect x="606.11" y="429.24" width="6.46" height="9.06" fill="#f3c4ad"/>
<rect x="612.22" y="429.24" width="6.46" height="9.06" fill="#cbd4e6"/>
<rect x="618.33" y="429.24" width="6.46" height="9.06" fill="#ead3c8"/>
<rect x="624.45" y="429.24" width="6.46" height="9.06" fill="#a8bfea"/>
<rect x="630.56" y="429.24" width="6.46" height="9.06" fill="#a8bfea"/>
<rect x="636.67" y="429.24" width="6.46" height="9.06" fill="#d4d9e4"/>
<rect x="642.79" y="429.24" width="6.46" height="9.06" fill="#b9caea"/>
<text x="650.60" y="435.70" font-size="6.85" text-anchor="start" fill="#222" >RAP2C</text>
<rect x="557.20" y="437.95" width="6.46" height="9.06" fill="#b0c5ec"/>
<rect x="563.31" y="437.95" width="6.46" height="9.06" fill="#b9caea"/>
<rect x="569.43" y="437.95" width="6.46" height="9.06" fill="#b9caea"/>
<rect x="575.54" y="437.95" width="6.46" height="9.06" fill="#c43036"/>
<rect x="581.65" y="437.95" width="6.46" height="9.06" fill="#df6352"/>
<rect x="587.77" y="437.95" width="6.46" height="9.06" fill="#da574c"/>
<rect x="593.88" y="437.95" width="6.46" height="9.06" fill="#c2cfe8"/>
<rect x="599.99" y="437.95" width="6.46" height="9.06" fill="#c2cfe8"/>
<rect x="606.11" y="437.95" width="6.46" height="9.06" fill="#d4d9e4"/>
<rect x="612.22" y="437.95" width="6.46" height="9.06" fill="#a1b9e8"/>
<rect x="618.33" y="437.95" width="6.46" height="9.06" fill="#c2cfe8"/>
<rect x="624.45" y="437.95" width="6.46" height="9.06" fill="#a8bfea"/>
<rect x="630.56" y="437.95" width="6.46" height="9.06" fill="#d4d9e4"/>
<rect x="636.67" y="437.95" width="6.46" height="9.06" fill="#d4d9e4"/>
<rect x="642.79" y="437.95" width="6.46" height="9.06" fill="#b9caea"/>
<text x="650.60" y="444.41" font-size="6.85" text-anchor="start" fill="#222" >PHF6</text>
<rect x="557.20" y="446.66" width="6.46" height="9.06" fill="#a8bfea"/>
<rect x="563.31" y="446.66" width="6.46" height="9.06" fill="#a8bfea"/>
<rect x="569.43" y="446.66" width="6.46" height="9.06" fill="#a8bfea"/>
<rect x="575.54" y="446.66" width="6.46" height="9.06" fill="#f2cbb7"/>
<rect x="581.65" y="446.66" width="6.46" height="9.06" fill="#e46e59"/>
<rect x="587.77" y="446.66" width="6.46" height="9.06" fill="#f39f7f"/>
<rect x="593.88" y="446.66" width="6.46" height="9.06" fill="#f39f7f"/>
<rect x="599.99" y="446.66" width="6.46" height="9.06" fill="#eb8368"/>
<rect x="606.11" y="446.66" width="6.46" height="9.06" fill="#f09677"/>
<rect x="612.22" y="446.66" width="6.46" height="9.06" fill="#b9caea"/>
<rect x="618.33" y="446.66" width="6.46" height="9.06" fill="#b9caea"/>
<rect x="624.45" y="446.66" width="6.46" height="9.06" fill="#a1b9e8"/>
<rect x="630.56" y="446.66" width="6.46" height="9.06" fill="#99b2e6"/>
<rect x="636.67" y="446.66" width="6.46" height="9.06" fill="#b0c5ec"/>
<rect x="642.79" y="446.66" width="6.46" height="9.06" fill="#a8bfea"/>
<text x="650.60" y="453.12" font-size="6.85" text-anchor="start" fill="#222" >RBMX</text>
<rect x="557.20" y="455.37" width="6.46" height="9.06" fill="#7d9bdb"/>
<rect x="563.31" y="455.37" width="6.46" height="9.06" fill="#7d9bdb"/>
<rect x="569.43" y="455.37" width="6.46" height="9.06" fill="#a1b9e8"/>
<rect x="575.54" y="455.37" width="6.46" height="9.06" fill="#d4d9e4"/>
<rect x="581.65" y="455.37" width="6.46" height="9.06" fill="#f39f7f"/>
<rect x="587.77" y="455.37" width="6.46" height="9.06" fill="#f5a887"/>
<rect x="593.88" y="455.37" width="6.46" height="9.06" fill="#dddee2"/>
<rect x="599.99" y="455.37" width="6.46" height="9.06" fill="#cbd4e6"/>
<rect x="606.11" y="455.37" width="6.46" height="9.06" fill="#b9caea"/>
<rect x="612.22" y="455.37" width="6.46" height="9.06" fill="#e97a60"/>
<rect x="618.33" y="455.37" width="6.46" height="9.06" fill="#da574c"/>
<rect x="624.45" y="455.37" width="6.46" height="9.06" fill="#d4d9e4"/>
<rect x="630.56" y="455.37" width="6.46" height="9.06" fill="#d4d9e4"/>
<rect x="636.67" y="455.37" width="6.46" height="9.06" fill="#ead3c8"/>
<rect x="642.79" y="455.37" width="6.46" height="9.06" fill="#dddee2"/>
<text x="650.60" y="461.83" font-size="6.85" text-anchor="start" fill="#222" >ZIC3</text>
<rect x="557.20" y="464.08" width="6.46" height="9.06" fill="#b0c5ec"/>
<rect x="563.31" y="464.08" width="6.46" height="9.06" fill="#a8bfea"/>
<rect x="569.43" y="464.08" width="6.46" height="9.06" fill="#b0c5ec"/>
<rect x="575.54" y="464.08" width="6.46" height="9.06" fill="#cbd4e6"/>
<rect x="581.65" y="464.08" width="6.46" height="9.06" fill="#eecfc0"/>
<rect x="587.77" y="464.08" width="6.46" height="9.06" fill="#ead3c8"/>
<rect x="593.88" y="464.08" width="6.46" height="9.06" fill="#dddee2"/>
<rect x="599.99" y="464.08" width="6.46" height="9.06" fill="#f2cbb7"/>
<rect x="606.11" y="464.08" width="6.46" height="9.06" fill="#e5d6d1"/>
<rect x="612.22" y="464.08" width="6.46" height="9.06" fill="#da574c"/>
<rect x="618.33" y="464.08" width="6.46" height="9.06" fill="#df6352"/>
<rect x="624.45" y="464.08" width="6.46" height="9.06" fill="#f5a887"/>
<rect x="630.56" y="464.08" width="6.46" height="9.06" fill="#99b2e6"/>
<rect x="636.67" y="464.08" width="6.46" height="9.06" fill="#a1b9e8"/>
<rect x="642.79" y="464.08" width="6.46" height="9.06" fill="#a1b9e8"/>
<text x="650.60" y="470.54" font-size="6.85" text-anchor="start" fill="#222" >IDH3G</text>
<rect x="557.20" y="472.79" width="6.46" height="9.06" fill="#99b2e6"/>
<rect x="563.31" y="472.79" width="6.46" height="9.06" fill="#a1b9e8"/>
<rect x="569.43" y="472.79" width="6.46" height="9.06" fill="#a1b9e8"/>
<rect x="575.54" y="472.79" width="6.46" height="9.06" fill="#f5a887"/>
<rect x="581.65" y="472.79" width="6.46" height="9.06" fill="#f5a887"/>
<rect x="587.77" y="472.79" width="6.46" height="9.06" fill="#f39f7f"/>
<rect x="593.88" y="472.79" width="6.46" height="9.06" fill="#eecfc0"/>
<rect x="599.99" y="472.79" width="6.46" height="9.06" fill="#eecfc0"/>
<rect x="606.11" y="472.79" width="6.46" height="9.06" fill="#eecfc0"/>
<rect x="612.22" y="472.79" width="6.46" height="9.06" fill="#f4b69a"/>
<rect x="618.33" y="472.79" width="6.46" height="9.06" fill="#f4b69a"/>
<rect x="624.45" y="472.79" width="6.46" height="9.06" fill="#ead3c8"/>
<rect x="630.56" y="472.79" width="6.46" height="9.06" fill="#a1b9e8"/>
<rect x="636.67" y="472.79" width="6.46" height="9.06" fill="#a8bfea"/>
<rect x="642.79" y="472.79" width="6.46" height="9.06" fill="#a8bfea"/>
<text x="650.60" y="479.25" font-size="6.85" text-anchor="start" fill="#222" >HCFC1</text>
<rect x="557.20" y="481.50" width="6.46" height="9.06" fill="#a8bfea"/>
<rect x="563.31" y="481.50" width="6.46" height="9.06" fill="#a8bfea"/>
<rect x="569.43" y="481.50" width="6.46" height="9.06" fill="#b0c5ec"/>
<rect x="575.54" y="481.50" width="6.46" height="9.06" fill="#e46e59"/>
<rect x="581.65" y="481.50" width="6.46" height="9.06" fill="#da574c"/>
<rect x="587.77" y="481.50" width="6.46" height="9.06" fill="#d0403e"/>
<rect x="593.88" y="481.50" width="6.46" height="9.06" fill="#b9caea"/>
<rect x="599.99" y="481.50" width="6.46" height="9.06" fill="#cbd4e6"/>
<rect x="606.11" y="481.50" width="6.46" height="9.06" fill="#cbd4e6"/>
<rect x="612.22" y="481.50" width="6.46" height="9.06" fill="#c2cfe8"/>
<rect x="618.33" y="481.50" width="6.46" height="9.06" fill="#c2cfe8"/>
<rect x="624.45" y="481.50" width="6.46" height="9.06" fill="#ead3c8"/>
<rect x="630.56" y="481.50" width="6.46" height="9.06" fill="#c2cfe8"/>
<rect x="636.67" y="481.50" width="6.46" height="9.06" fill="#a8bfea"/>
<rect x="642.79" y="481.50" width="6.46" height="9.06" fill="#a8bfea"/>
<text x="650.60" y="487.96" font-size="6.85" text-anchor="start" fill="#222" >FLNA</text>
<rect x="557.20" y="490.21" width="6.46" height="9.06" fill="#a8bfea"/>
<rect x="563.31" y="490.21" width="6.46" height="9.06" fill="#b0c5ec"/>
<rect x="569.43" y="490.21" width="6.46" height="9.06" fill="#a8bfea"/>
<rect x="575.54" y="490.21" width="6.46" height="9.06" fill="#f09677"/>
<rect x="581.65" y="490.21" width="6.46" height="9.06" fill="#eecfc0"/>
<rect x="587.77" y="490.21" width="6.46" height="9.06" fill="#eb8368"/>
<rect x="593.88" y="490.21" width="6.46" height="9.06" fill="#f3bda4"/>
<rect x="599.99" y="490.21" width="6.46" height="9.06" fill="#eecfc0"/>
<rect x="606.11" y="490.21" width="6.46" height="9.06" fill="#f4b69a"/>
<rect x="612.22" y="490.21" width="6.46" height="9.06" fill="#eecfc0"/>
<rect x="618.33" y="490.21" width="6.46" height="9.06" fill="#dddee2"/>
<rect x="624.45" y="490.21" width="6.46" height="9.06" fill="#f3bda4"/>
<rect x="630.56" y="490.21" width="6.46" height="9.06" fill="#a1b9e8"/>
<rect x="636.67" y="490.21" width="6.46" height="9.06" fill="#99b2e6"/>
<rect x="642.79" y="490.21" width="6.46" height="9.06" fill="#99b2e6"/>
<text x="650.60" y="496.67" font-size="6.85" text-anchor="start" fill="#222" >RPL10</text>
<rect x="557.20" y="498.92" width="6.46" height="9.06" fill="#b9caea"/>
<rect x="563.31" y="498.92" width="6.46" height="9.06" fill="#b9caea"/>
<rect x="569.43" y="498.92" width="6.46" height="9.06" fill="#b0c5ec"/>
<rect x="575.54" y="498.92" width="6.46" height="9.06" fill="#d0403e"/>
<rect x="581.65" y="498.92" width="6.46" height="9.06" fill="#ead3c8"/>
<rect x="587.77" y="498.92" width="6.46" height="9.06" fill="#f09677"/>
<rect x="593.88" y="498.92" width="6.46" height="9.06" fill="#eecfc0"/>
<rect x="599.99" y="498.92" width="6.46" height="9.06" fill="#f4af91"/>
<rect x="606.11" y="498.92" width="6.46" height="9.06" fill="#f4b69a"/>
<rect x="612.22" y="498.92" width="6.46" height="9.06" fill="#99b2e6"/>
<rect x="618.33" y="498.92" width="6.46" height="9.06" fill="#b0c5ec"/>
<rect x="624.45" y="498.92" width="6.46" height="9.06" fill="#f4b69a"/>
<rect x="630.56" y="498.92" width="6.46" height="9.06" fill="#c2cfe8"/>
<rect x="636.67" y="498.92" width="6.46" height="9.06" fill="#99b2e6"/>
<rect x="642.79" y="498.92" width="6.46" height="9.06" fill="#a8bfea"/>
<text x="650.60" y="505.38" font-size="6.85" text-anchor="start" fill="#222" >GDI1</text>
<rect x="557.20" y="507.63" width="6.46" height="9.06" fill="#b9caea"/>
<rect x="563.31" y="507.63" width="6.46" height="9.06" fill="#b0c5ec"/>
<rect x="569.43" y="507.63" width="6.46" height="9.06" fill="#a8bfea"/>
<rect x="575.54" y="507.63" width="6.46" height="9.06" fill="#f09677"/>
<rect x="581.65" y="507.63" width="6.46" height="9.06" fill="#f3bda4"/>
<rect x="587.77" y="507.63" width="6.46" height="9.06" fill="#f2cbb7"/>
<rect x="593.88" y="507.63" width="6.46" height="9.06" fill="#f09677"/>
<rect x="599.99" y="507.63" width="6.46" height="9.06" fill="#f3c4ad"/>
<rect x="606.11" y="507.63" width="6.46" height="9.06" fill="#f4af91"/>
<rect x="612.22" y="507.63" width="6.46" height="9.06" fill="#c2cfe8"/>
<rect x="618.33" y="507.63" width="6.46" height="9.06" fill="#f2cbb7"/>
<rect x="624.45" y="507.63" width="6.46" height="9.06" fill="#f4b69a"/>
<rect x="630.56" y="507.63" width="6.46" height="9.06" fill="#99b2e6"/>
<rect x="636.67" y="507.63" width="6.46" height="9.06" fill="#83a0df"/>
<rect x="642.79" y="507.63" width="6.46" height="9.06" fill="#b0c5ec"/>
<text x="650.60" y="514.09" font-size="6.85" text-anchor="start" fill="#222" >UBL4A</text>
<rect x="557.20" y="516.34" width="6.46" height="9.06" fill="#a1b9e8"/>
<rect x="563.31" y="516.34" width="6.46" height="9.06" fill="#a1b9e8"/>
<rect x="569.43" y="516.34" width="6.46" height="9.06" fill="#a8bfea"/>
<rect x="575.54" y="516.34" width="6.46" height="9.06" fill="#d4d9e4"/>
<rect x="581.65" y="516.34" width="6.46" height="9.06" fill="#f2cbb7"/>
<rect x="587.77" y="516.34" width="6.46" height="9.06" fill="#ead3c8"/>
<rect x="593.88" y="516.34" width="6.46" height="9.06" fill="#ead3c8"/>
<rect x="599.99" y="516.34" width="6.46" height="9.06" fill="#eecfc0"/>
<rect x="606.11" y="516.34" width="6.46" height="9.06" fill="#e5d6d1"/>
<rect x="612.22" y="516.34" width="6.46" height="9.06" fill="#da574c"/>
<rect x="618.33" y="516.34" width="6.46" height="9.06" fill="#d0403e"/>
<rect x="624.45" y="516.34" width="6.46" height="9.06" fill="#f4b69a"/>
<rect x="630.56" y="516.34" width="6.46" height="9.06" fill="#a8bfea"/>
<rect x="636.67" y="516.34" width="6.46" height="9.06" fill="#b0c5ec"/>
<rect x="642.79" y="516.34" width="6.46" height="9.06" fill="#a8bfea"/>
<text x="650.60" y="522.80" font-size="6.85" text-anchor="start" fill="#222" >DKC1</text>
<rect x="557.20" y="525.05" width="6.46" height="9.06" fill="#c2cfe8"/>
<rect x="563.31" y="525.05" width="6.46" height="9.06" fill="#cbd4e6"/>
<rect x="569.43" y="525.05" width="6.46" height="9.06" fill="#b0c5ec"/>
<rect x="575.54" y="525.05" width="6.46" height="9.06" fill="#c43036"/>
<rect x="581.65" y="525.05" width="6.46" height="9.06" fill="#f2cbb7"/>
<rect x="587.77" y="525.05" width="6.46" height="9.06" fill="#ee8c70"/>
<rect x="593.88" y="525.05" width="6.46" height="9.06" fill="#f3c4ad"/>
<rect x="599.99" y="525.05" width="6.46" height="9.06" fill="#f2cbb7"/>
<rect x="606.11" y="525.05" width="6.46" height="9.06" fill="#f3bda4"/>
<rect x="612.22" y="525.05" width="6.46" height="9.06" fill="#b0c5ec"/>
<rect x="618.33" y="525.05" width="6.46" height="9.06" fill="#cbd4e6"/>
<rect x="624.45" y="525.05" width="6.46" height="9.06" fill="#f3c4ad"/>
<rect x="630.56" y="525.05" width="6.46" height="9.06" fill="#b9caea"/>
<rect x="636.67" y="525.05" width="6.46" height="9.06" fill="#8aa6e2"/>
<rect x="642.79" y="525.05" width="6.46" height="9.06" fill="#b0c5ec"/>
<text x="650.60" y="531.51" font-size="6.85" text-anchor="start" fill="#222" >VBP1</text>
<rect x="557.20" y="533.76" width="6.46" height="9.06" fill="#b0c5ec"/>
<rect x="563.31" y="533.76" width="6.46" height="9.06" fill="#b0c5ec"/>
<rect x="569.43" y="533.76" width="6.46" height="9.06" fill="#b0c5ec"/>
<rect x="575.54" y="533.76" width="6.46" height="9.06" fill="#d54c45"/>
<rect x="581.65" y="533.76" width="6.46" height="9.06" fill="#eb8368"/>
<rect x="587.77" y="533.76" width="6.46" height="9.06" fill="#b8202f"/>
<rect x="593.88" y="533.76" width="6.46" height="9.06" fill="#c2cfe8"/>
<rect x="599.99" y="533.76" width="6.46" height="9.06" fill="#d4d9e4"/>
<rect x="606.11" y="533.76" width="6.46" height="9.06" fill="#cbd4e6"/>
<rect x="612.22" y="533.76" width="6.46" height="9.06" fill="#b9caea"/>
<rect x="618.33" y="533.76" width="6.46" height="9.06" fill="#b9caea"/>
<rect x="624.45" y="533.76" width="6.46" height="9.06" fill="#b9caea"/>
<rect x="630.56" y="533.76" width="6.46" height="9.06" fill="#b9caea"/>
<rect x="636.67" y="533.76" width="6.46" height="9.06" fill="#b0c5ec"/>
<rect x="642.79" y="533.76" width="6.46" height="9.06" fill="#b9caea"/>
<text x="650.60" y="540.22" font-size="6.85" text-anchor="start" fill="#222" >PLS3</text>
<rect x="557.20" y="542.47" width="6.46" height="9.06" fill="#b9caea"/>
<rect x="563.31" y="542.47" width="6.46" height="9.06" fill="#a1b9e8"/>
<rect x="569.43" y="542.47" width="6.46" height="9.06" fill="#b9caea"/>
<rect x="575.54" y="542.47" width="6.46" height="9.06" fill="#c2cfe8"/>
<rect x="581.65" y="542.47" width="6.46" height="9.06" fill="#f5a887"/>
<rect x="587.77" y="542.47" width="6.46" height="9.06" fill="#eecfc0"/>
<rect x="593.88" y="542.47" width="6.46" height="9.06" fill="#e97a60"/>
<rect x="599.99" y="542.47" width="6.46" height="9.06" fill="#d54c45"/>
<rect x="606.11" y="542.47" width="6.46" height="9.06" fill="#eb8368"/>
<rect x="612.22" y="542.47" width="6.46" height="9.06" fill="#d4d9e4"/>
<rect x="618.33" y="542.47" width="6.46" height="9.06" fill="#e1dad9"/>
<rect x="624.45" y="542.47" width="6.46" height="9.06" fill="#b0c5ec"/>
<rect x="630.56" y="542.47" width="6.46" height="9.06" fill="#b0c5ec"/>
<rect x="636.67" y="542.47" width="6.46" height="9.06" fill="#b0c5ec"/>
<rect x="642.79" y="542.47" width="6.46" height="9.06" fill="#b0c5ec"/>
<text x="650.60" y="548.93" font-size="6.85" text-anchor="start" fill="#222" >APOO</text>
<rect x="557.20" y="551.18" width="6.46" height="9.06" fill="#c2cfe8"/>
<rect x="563.31" y="551.18" width="6.46" height="9.06" fill="#c2cfe8"/>
<rect x="569.43" y="551.18" width="6.46" height="9.06" fill="#b9caea"/>
<rect x="575.54" y="551.18" width="6.46" height="9.06" fill="#da574c"/>
<rect x="581.65" y="551.18" width="6.46" height="9.06" fill="#f4b69a"/>
<rect x="587.77" y="551.18" width="6.46" height="9.06" fill="#f39f7f"/>
<rect x="593.88" y="551.18" width="6.46" height="9.06" fill="#f39f7f"/>
<rect x="599.99" y="551.18" width="6.46" height="9.06" fill="#f5a887"/>
<rect x="606.11" y="551.18" width="6.46" height="9.06" fill="#f09677"/>
<rect x="612.22" y="551.18" width="6.46" height="9.06" fill="#a8bfea"/>
<rect x="618.33" y="551.18" width="6.46" height="9.06" fill="#a8bfea"/>
<rect x="624.45" y="551.18" width="6.46" height="9.06" fill="#c2cfe8"/>
<rect x="630.56" y="551.18" width="6.46" height="9.06" fill="#a8bfea"/>
<rect x="636.67" y="551.18" width="6.46" height="9.06" fill="#92ace4"/>
<rect x="642.79" y="551.18" width="6.46" height="9.06" fill="#a8bfea"/>
<text x="650.60" y="557.64" font-size="6.85" text-anchor="start" fill="#222" >GSPT2</text>
<rect x="557.20" y="559.89" width="6.46" height="9.06" fill="#a8bfea"/>
<rect x="563.31" y="559.89" width="6.46" height="9.06" fill="#a8bfea"/>
<rect x="569.43" y="559.89" width="6.46" height="9.06" fill="#b0c5ec"/>
<rect x="575.54" y="559.89" width="6.46" height="9.06" fill="#f4af91"/>
<rect x="581.65" y="559.89" width="6.46" height="9.06" fill="#e46e59"/>
<rect x="587.77" y="559.89" width="6.46" height="9.06" fill="#f09677"/>
<rect x="593.88" y="559.89" width="6.46" height="9.06" fill="#f09677"/>
<rect x="599.99" y="559.89" width="6.46" height="9.06" fill="#ee8c70"/>
<rect x="606.11" y="559.89" width="6.46" height="9.06" fill="#f4af91"/>
<rect x="612.22" y="559.89" width="6.46" height="9.06" fill="#b9caea"/>
<rect x="618.33" y="559.89" width="6.46" height="9.06" fill="#b9caea"/>
<rect x="624.45" y="559.89" width="6.46" height="9.06" fill="#a8bfea"/>
<rect x="630.56" y="559.89" width="6.46" height="9.06" fill="#b9caea"/>
<rect x="636.67" y="559.89" width="6.46" height="9.06" fill="#a8bfea"/>
<rect x="642.79" y="559.89" width="6.46" height="9.06" fill="#a8bfea"/>
<text x="650.60" y="566.35" font-size="6.85" text-anchor="start" fill="#222" >LAS1L</text>
<rect x="557.20" y="568.60" width="6.46" height="9.06" fill="#a1b9e8"/>
<rect x="563.31" y="568.60" width="6.46" height="9.06" fill="#a8bfea"/>
<rect x="569.43" y="568.60" width="6.46" height="9.06" fill="#b0c5ec"/>
<rect x="575.54" y="568.60" width="6.46" height="9.06" fill="#e97a60"/>
<rect x="581.65" y="568.60" width="6.46" height="9.06" fill="#e46e59"/>
<rect x="587.77" y="568.60" width="6.46" height="9.06" fill="#be2833"/>
<rect x="593.88" y="568.60" width="6.46" height="9.06" fill="#d4d9e4"/>
<rect x="599.99" y="568.60" width="6.46" height="9.06" fill="#ead3c8"/>
<rect x="606.11" y="568.60" width="6.46" height="9.06" fill="#d4d9e4"/>
<rect x="612.22" y="568.60" width="6.46" height="9.06" fill="#b0c5ec"/>
<rect x="618.33" y="568.60" width="6.46" height="9.06" fill="#b0c5ec"/>
<rect x="624.45" y="568.60" width="6.46" height="9.06" fill="#cbd4e6"/>
<rect x="630.56" y="568.60" width="6.46" height="9.06" fill="#cbd4e6"/>
<rect x="636.67" y="568.60" width="6.46" height="9.06" fill="#c2cfe8"/>
<rect x="642.79" y="568.60" width="6.46" height="9.06" fill="#b0c5ec"/>
<text x="650.60" y="575.06" font-size="6.85" text-anchor="start" fill="#222" >MSN</text>
<rect x="557.20" y="577.31" width="6.46" height="9.06" fill="#b0c5ec"/>
<rect x="563.31" y="577.31" width="6.46" height="9.06" fill="#b9caea"/>
<rect x="569.43" y="577.31" width="6.46" height="9.06" fill="#b0c5ec"/>
<rect x="575.54" y="577.31" width="6.46" height="9.06" fill="#f39f7f"/>
<rect x="581.65" y="577.31" width="6.46" height="9.06" fill="#e97a60"/>
<rect x="587.77" y="577.31" width="6.46" height="9.06" fill="#dddee2"/>
<rect x="593.88" y="577.31" width="6.46" height="9.06" fill="#e46e59"/>
<rect x="599.99" y="577.31" width="6.46" height="9.06" fill="#f5a887"/>
<rect x="606.11" y="577.31" width="6.46" height="9.06" fill="#ee8c70"/>
<rect x="612.22" y="577.31" width="6.46" height="9.06" fill="#b0c5ec"/>
<rect x="618.33" y="577.31" width="6.46" height="9.06" fill="#b9caea"/>
<rect x="624.45" y="577.31" width="6.46" height="9.06" fill="#b0c5ec"/>
<rect x="630.56" y="577.31" width="6.46" height="9.06" fill="#b0c5ec"/>
<rect x="636.67" y="577.31" width="6.46" height="9.06" fill="#92ace4"/>
<rect x="642.79" y="577.31" width="6.46" height="9.06" fill="#b0c5ec"/>
<text x="650.60" y="583.77" font-size="6.85" text-anchor="start" fill="#222" >PDZD11</text>
<rect x="557.20" y="586.02" width="6.46" height="9.06" fill="#b0c5ec"/>
<rect x="563.31" y="586.02" width="6.46" height="9.06" fill="#b0c5ec"/>
<rect x="569.43" y="586.02" width="6.46" height="9.06" fill="#a8bfea"/>
<rect x="575.54" y="586.02" width="6.46" height="9.06" fill="#f09677"/>
<rect x="581.65" y="586.02" width="6.46" height="9.06" fill="#f4b69a"/>
<rect x="587.77" y="586.02" width="6.46" height="9.06" fill="#f09677"/>
<rect x="593.88" y="586.02" width="6.46" height="9.06" fill="#f5a887"/>
<rect x="599.99" y="586.02" width="6.46" height="9.06" fill="#f4b69a"/>
<rect x="606.11" y="586.02" width="6.46" height="9.06" fill="#ee8c70"/>
<rect x="612.22" y="586.02" width="6.46" height="9.06" fill="#b0c5ec"/>
<rect x="618.33" y="586.02" width="6.46" height="9.06" fill="#a8bfea"/>
<rect x="624.45" y="586.02" width="6.46" height="9.06" fill="#b0c5ec"/>
<rect x="630.56" y="586.02" width="6.46" height="9.06" fill="#b9caea"/>
<rect x="636.67" y="586.02" width="6.46" height="9.06" fill="#b0c5ec"/>
<rect x="642.79" y="586.02" width="6.46" height="9.06" fill="#a8bfea"/>
<text x="650.60" y="592.48" font-size="6.85" text-anchor="start" fill="#222" >MED12</text>
<rect x="557.20" y="594.73" width="6.46" height="9.06" fill="#a1b9e8"/>
<rect x="563.31" y="594.73" width="6.46" height="9.06" fill="#99b2e6"/>
<rect x="569.43" y="594.73" width="6.46" height="9.06" fill="#a8bfea"/>
<rect x="575.54" y="594.73" width="6.46" height="9.06" fill="#dddee2"/>
<rect x="581.65" y="594.73" width="6.46" height="9.06" fill="#ee8c70"/>
<rect x="587.77" y="594.73" width="6.46" height="9.06" fill="#f3bda4"/>
<rect x="593.88" y="594.73" width="6.46" height="9.06" fill="#e97a60"/>
<rect x="599.99" y="594.73" width="6.46" height="9.06" fill="#f39f7f"/>
<rect x="606.11" y="594.73" width="6.46" height="9.06" fill="#f3c4ad"/>
<rect x="612.22" y="594.73" width="6.46" height="9.06" fill="#ead3c8"/>
<rect x="618.33" y="594.73" width="6.46" height="9.06" fill="#f3bda4"/>
<rect x="624.45" y="594.73" width="6.46" height="9.06" fill="#a8bfea"/>
<rect x="630.56" y="594.73" width="6.46" height="9.06" fill="#a8bfea"/>
<rect x="636.67" y="594.73" width="6.46" height="9.06" fill="#cbd4e6"/>
<rect x="642.79" y="594.73" width="6.46" height="9.06" fill="#a8bfea"/>
<text x="650.60" y="601.19" font-size="6.85" text-anchor="start" fill="#222" >NONO</text>
<rect x="557.20" y="603.44" width="6.46" height="9.06" fill="#b0c5ec"/>
<rect x="563.31" y="603.44" width="6.46" height="9.06" fill="#b9caea"/>
<rect x="569.43" y="603.44" width="6.46" height="9.06" fill="#a8bfea"/>
<rect x="575.54" y="603.44" width="6.46" height="9.06" fill="#da574c"/>
<rect x="581.65" y="603.44" width="6.46" height="9.06" fill="#f4b69a"/>
<rect x="587.77" y="603.44" width="6.46" height="9.06" fill="#e46e59"/>
<rect x="593.88" y="603.44" width="6.46" height="9.06" fill="#f5a887"/>
<rect x="599.99" y="603.44" width="6.46" height="9.06" fill="#f5a887"/>
<rect x="606.11" y="603.44" width="6.46" height="9.06" fill="#f39f7f"/>
<rect x="612.22" y="603.44" width="6.46" height="9.06" fill="#b0c5ec"/>
<rect x="618.33" y="603.44" width="6.46" height="9.06" fill="#b0c5ec"/>
<rect x="624.45" y="603.44" width="6.46" height="9.06" fill="#b9caea"/>
<rect x="630.56" y="603.44" width="6.46" height="9.06" fill="#a8bfea"/>
<rect x="636.67" y="603.44" width="6.46" height="9.06" fill="#a8bfea"/>
<rect x="642.79" y="603.44" width="6.46" height="9.06" fill="#a8bfea"/>
<text x="650.60" y="609.90" font-size="6.85" text-anchor="start" fill="#222" >RPS4X</text>
<rect x="557.20" y="612.15" width="6.46" height="9.06" fill="#b9caea"/>
<rect x="563.31" y="612.15" width="6.46" height="9.06" fill="#b9caea"/>
<rect x="569.43" y="612.15" width="6.46" height="9.06" fill="#b0c5ec"/>
<rect x="575.54" y="612.15" width="6.46" height="9.06" fill="#d0403e"/>
<rect x="581.65" y="612.15" width="6.46" height="9.06" fill="#d0403e"/>
<rect x="587.77" y="612.15" width="6.46" height="9.06" fill="#da574c"/>
<rect x="593.88" y="612.15" width="6.46" height="9.06" fill="#cbd4e6"/>
<rect x="599.99" y="612.15" width="6.46" height="9.06" fill="#e1dad9"/>
<rect x="606.11" y="612.15" width="6.46" height="9.06" fill="#d4d9e4"/>
<rect x="612.22" y="612.15" width="6.46" height="9.06" fill="#b0c5ec"/>
<rect x="618.33" y="612.15" width="6.46" height="9.06" fill="#b9caea"/>
<rect x="624.45" y="612.15" width="6.46" height="9.06" fill="#b9caea"/>
<rect x="630.56" y="612.15" width="6.46" height="9.06" fill="#b9caea"/>
<rect x="636.67" y="612.15" width="6.46" height="9.06" fill="#b9caea"/>
<rect x="642.79" y="612.15" width="6.46" height="9.06" fill="#b9caea"/>
<text x="650.60" y="618.61" font-size="6.85" text-anchor="start" fill="#222" >RLIM</text>
<rect x="557.20" y="620.86" width="6.46" height="9.06" fill="#a1b9e8"/>
<rect x="563.31" y="620.86" width="6.46" height="9.06" fill="#b0c5ec"/>
<rect x="569.43" y="620.86" width="6.46" height="9.06" fill="#b9caea"/>
<rect x="575.54" y="620.86" width="6.46" height="9.06" fill="#eecfc0"/>
<rect x="581.65" y="620.86" width="6.46" height="9.06" fill="#f39f7f"/>
<rect x="587.77" y="620.86" width="6.46" height="9.06" fill="#f4af91"/>
<rect x="593.88" y="620.86" width="6.46" height="9.06" fill="#f09677"/>
<rect x="599.99" y="620.86" width="6.46" height="9.06" fill="#eb8368"/>
<rect x="606.11" y="620.86" width="6.46" height="9.06" fill="#e97a60"/>
<rect x="612.22" y="620.86" width="6.46" height="9.06" fill="#dddee2"/>
<rect x="618.33" y="620.86" width="6.46" height="9.06" fill="#92ace4"/>
<rect x="624.45" y="620.86" width="6.46" height="9.06" fill="#83a0df"/>
<rect x="630.56" y="620.86" width="6.46" height="9.06" fill="#b9caea"/>
<rect x="636.67" y="620.86" width="6.46" height="9.06" fill="#dddee2"/>
<rect x="642.79" y="620.86" width="6.46" height="9.06" fill="#b9caea"/>
<text x="650.60" y="627.32" font-size="6.85" text-anchor="start" fill="#222" >CSTF2</text>
<rect x="557.20" y="629.57" width="6.46" height="9.06" fill="#b9caea"/>
<rect x="563.31" y="629.57" width="6.46" height="9.06" fill="#c2cfe8"/>
<rect x="569.43" y="629.57" width="6.46" height="9.06" fill="#b0c5ec"/>
<rect x="575.54" y="629.57" width="6.46" height="9.06" fill="#f09677"/>
<rect x="581.65" y="629.57" width="6.46" height="9.06" fill="#f09677"/>
<rect x="587.77" y="629.57" width="6.46" height="9.06" fill="#f4af91"/>
<rect x="593.88" y="629.57" width="6.46" height="9.06" fill="#f4af91"/>
<rect x="599.99" y="629.57" width="6.46" height="9.06" fill="#f5a887"/>
<rect x="606.11" y="629.57" width="6.46" height="9.06" fill="#e97a60"/>
<rect x="612.22" y="629.57" width="6.46" height="9.06" fill="#99b2e6"/>
<rect x="618.33" y="629.57" width="6.46" height="9.06" fill="#8aa6e2"/>
<rect x="624.45" y="629.57" width="6.46" height="9.06" fill="#a8bfea"/>
<rect x="630.56" y="629.57" width="6.46" height="9.06" fill="#c2cfe8"/>
<rect x="636.67" y="629.57" width="6.46" height="9.06" fill="#a1b9e8"/>
<rect x="642.79" y="629.57" width="6.46" height="9.06" fill="#b9caea"/>
<text x="650.60" y="636.03" font-size="6.85" text-anchor="start" fill="#222" >MORF4L2</text>
<rect x="557.20" y="638.28" width="6.46" height="9.06" fill="#b0c5ec"/>
<rect x="563.31" y="638.28" width="6.46" height="9.06" fill="#b0c5ec"/>
<rect x="569.43" y="638.28" width="6.46" height="9.06" fill="#b0c5ec"/>
<rect x="575.54" y="638.28" width="6.46" height="9.06" fill="#da574c"/>
<rect x="581.65" y="638.28" width="6.46" height="9.06" fill="#b2182b"/>
<rect x="587.77" y="638.28" width="6.46" height="9.06" fill="#d54c45"/>
<rect x="593.88" y="638.28" width="6.46" height="9.06" fill="#b9caea"/>
<rect x="599.99" y="638.28" width="6.46" height="9.06" fill="#b9caea"/>
<rect x="606.11" y="638.28" width="6.46" height="9.06" fill="#c2cfe8"/>
<rect x="612.22" y="638.28" width="6.46" height="9.06" fill="#c2cfe8"/>
<rect x="618.33" y="638.28" width="6.46" height="9.06" fill="#c2cfe8"/>
<rect x="624.45" y="638.28" width="6.46" height="9.06" fill="#b9caea"/>
<rect x="630.56" y="638.28" width="6.46" height="9.06" fill="#b9caea"/>
<rect x="636.67" y="638.28" width="6.46" height="9.06" fill="#b9caea"/>
<rect x="642.79" y="638.28" width="6.46" height="9.06" fill="#b9caea"/>
<text x="650.60" y="644.74" font-size="6.85" text-anchor="start" fill="#222" >ACSL4</text>
<rect x="557.20" y="646.99" width="6.46" height="9.06" fill="#8aa6e2"/>
<rect x="563.31" y="646.99" width="6.46" height="9.06" fill="#99b2e6"/>
<rect x="569.43" y="646.99" width="6.46" height="9.06" fill="#a1b9e8"/>
<rect x="575.54" y="646.99" width="6.46" height="9.06" fill="#f4af91"/>
<rect x="581.65" y="646.99" width="6.46" height="9.06" fill="#eecfc0"/>
<rect x="587.77" y="646.99" width="6.46" height="9.06" fill="#f3bda4"/>
<rect x="593.88" y="646.99" width="6.46" height="9.06" fill="#e1dad9"/>
<rect x="599.99" y="646.99" width="6.46" height="9.06" fill="#dddee2"/>
<rect x="606.11" y="646.99" width="6.46" height="9.06" fill="#e1dad9"/>
<rect x="612.22" y="646.99" width="6.46" height="9.06" fill="#a1b9e8"/>
<rect x="618.33" y="646.99" width="6.46" height="9.06" fill="#c2cfe8"/>
<rect x="624.45" y="646.99" width="6.46" height="9.06" fill="#b0c5ec"/>
<rect x="630.56" y="646.99" width="6.46" height="9.06" fill="#f39f7f"/>
<rect x="636.67" y="646.99" width="6.46" height="9.06" fill="#da574c"/>
<rect x="642.79" y="646.99" width="6.46" height="9.06" fill="#f09677"/>
<text x="650.60" y="653.45" font-size="6.85" text-anchor="start" fill="#222" >GNL3L</text>
<rect x="557.20" y="655.70" width="6.46" height="9.06" fill="#99b2e6"/>
<rect x="563.31" y="655.70" width="6.46" height="9.06" fill="#a1b9e8"/>
<rect x="569.43" y="655.70" width="6.46" height="9.06" fill="#a8bfea"/>
<rect x="575.54" y="655.70" width="6.46" height="9.06" fill="#dddee2"/>
<rect x="581.65" y="655.70" width="6.46" height="9.06" fill="#eecfc0"/>
<rect x="587.77" y="655.70" width="6.46" height="9.06" fill="#ead3c8"/>
<rect x="593.88" y="655.70" width="6.46" height="9.06" fill="#eecfc0"/>
<rect x="599.99" y="655.70" width="6.46" height="9.06" fill="#eecfc0"/>
<rect x="606.11" y="655.70" width="6.46" height="9.06" fill="#ead3c8"/>
<rect x="612.22" y="655.70" width="6.46" height="9.06" fill="#b0c5ec"/>
<rect x="618.33" y="655.70" width="6.46" height="9.06" fill="#b0c5ec"/>
<rect x="624.45" y="655.70" width="6.46" height="9.06" fill="#a1b9e8"/>
<rect x="630.56" y="655.70" width="6.46" height="9.06" fill="#f5a887"/>
<rect x="636.67" y="655.70" width="6.46" height="9.06" fill="#d0403e"/>
<rect x="642.79" y="655.70" width="6.46" height="9.06" fill="#eb8368"/>
<text x="650.60" y="662.16" font-size="6.85" text-anchor="start" fill="#222" >SMC1A</text>
<rect x="557.20" y="664.41" width="6.46" height="9.06" fill="#b0c5ec"/>
<rect x="563.31" y="664.41" width="6.46" height="9.06" fill="#b0c5ec"/>
<rect x="569.43" y="664.41" width="6.46" height="9.06" fill="#b0c5ec"/>
<rect x="575.54" y="664.41" width="6.46" height="9.06" fill="#d54c45"/>
<rect x="581.65" y="664.41" width="6.46" height="9.06" fill="#d0403e"/>
<rect x="587.77" y="664.41" width="6.46" height="9.06" fill="#ca383a"/>
<rect x="593.88" y="664.41" width="6.46" height="9.06" fill="#b9caea"/>
<rect x="599.99" y="664.41" width="6.46" height="9.06" fill="#b9caea"/>
<rect x="606.11" y="664.41" width="6.46" height="9.06" fill="#b9caea"/>
<rect x="612.22" y="664.41" width="6.46" height="9.06" fill="#b9caea"/>
<rect x="618.33" y="664.41" width="6.46" height="9.06" fill="#b9caea"/>
<rect x="624.45" y="664.41" width="6.46" height="9.06" fill="#b0c5ec"/>
<rect x="630.56" y="664.41" width="6.46" height="9.06" fill="#d4d9e4"/>
<rect x="636.67" y="664.41" width="6.46" height="9.06" fill="#cbd4e6"/>
<rect x="642.79" y="664.41" width="6.46" height="9.06" fill="#cbd4e6"/>
<text x="650.60" y="670.87" font-size="6.85" text-anchor="start" fill="#222" >SHROOM2</text>
<rect x="557.20" y="673.12" width="6.46" height="9.06" fill="#b9caea"/>
<rect x="563.31" y="673.12" width="6.46" height="9.06" fill="#b9caea"/>
<rect x="569.43" y="673.12" width="6.46" height="9.06" fill="#b0c5ec"/>
<rect x="575.54" y="673.12" width="6.46" height="9.06" fill="#d0403e"/>
<rect x="581.65" y="673.12" width="6.46" height="9.06" fill="#dddee2"/>
<rect x="587.77" y="673.12" width="6.46" height="9.06" fill="#f3c4ad"/>
<rect x="593.88" y="673.12" width="6.46" height="9.06" fill="#e97a60"/>
<rect x="599.99" y="673.12" width="6.46" height="9.06" fill="#f5a887"/>
<rect x="606.11" y="673.12" width="6.46" height="9.06" fill="#f5a887"/>
<rect x="612.22" y="673.12" width="6.46" height="9.06" fill="#a1b9e8"/>
<rect x="618.33" y="673.12" width="6.46" height="9.06" fill="#a1b9e8"/>
<rect x="624.45" y="673.12" width="6.46" height="9.06" fill="#b9caea"/>
<rect x="630.56" y="673.12" width="6.46" height="9.06" fill="#b9caea"/>
<rect x="636.67" y="673.12" width="6.46" height="9.06" fill="#a1b9e8"/>
<rect x="642.79" y="673.12" width="6.46" height="9.06" fill="#b9caea"/>
<text x="650.60" y="679.58" font-size="6.85" text-anchor="start" fill="#222" >SMS</text>
<rect x="557.20" y="681.83" width="6.46" height="9.06" fill="#a8bfea"/>
<rect x="563.31" y="681.83" width="6.46" height="9.06" fill="#a8bfea"/>
<rect x="569.43" y="681.83" width="6.46" height="9.06" fill="#a8bfea"/>
<rect x="575.54" y="681.83" width="6.46" height="9.06" fill="#f39f7f"/>
<rect x="581.65" y="681.83" width="6.46" height="9.06" fill="#c43036"/>
<rect x="587.77" y="681.83" width="6.46" height="9.06" fill="#ee8c70"/>
<rect x="593.88" y="681.83" width="6.46" height="9.06" fill="#eecfc0"/>
<rect x="599.99" y="681.83" width="6.46" height="9.06" fill="#f4af91"/>
<rect x="606.11" y="681.83" width="6.46" height="9.06" fill="#f5a887"/>
<rect x="612.22" y="681.83" width="6.46" height="9.06" fill="#b9caea"/>
<rect x="618.33" y="681.83" width="6.46" height="9.06" fill="#b9caea"/>
<rect x="624.45" y="681.83" width="6.46" height="9.06" fill="#b9caea"/>
<rect x="630.56" y="681.83" width="6.46" height="9.06" fill="#b0c5ec"/>
<rect x="636.67" y="681.83" width="6.46" height="9.06" fill="#b0c5ec"/>
<rect x="642.79" y="681.83" width="6.46" height="9.06" fill="#b0c5ec"/>
<text x="650.60" y="688.29" font-size="6.85" text-anchor="start" fill="#222" >PDHA1</text>
<rect x="557.20" y="690.54" width="6.46" height="9.06" fill="#b0c5ec"/>
<rect x="563.31" y="690.54" width="6.46" height="9.06" fill="#b9caea"/>
<rect x="569.43" y="690.54" width="6.46" height="9.06" fill="#b0c5ec"/>
<rect x="575.54" y="690.54" width="6.46" height="9.06" fill="#f09677"/>
<rect x="581.65" y="690.54" width="6.46" height="9.06" fill="#f39f7f"/>
<rect x="587.77" y="690.54" width="6.46" height="9.06" fill="#f09677"/>
<rect x="593.88" y="690.54" width="6.46" height="9.06" fill="#e97a60"/>
<rect x="599.99" y="690.54" width="6.46" height="9.06" fill="#f5a887"/>
<rect x="606.11" y="690.54" width="6.46" height="9.06" fill="#f3bda4"/>
<rect x="612.22" y="690.54" width="6.46" height="9.06" fill="#b9caea"/>
<rect x="618.33" y="690.54" width="6.46" height="9.06" fill="#b0c5ec"/>
<rect x="624.45" y="690.54" width="6.46" height="9.06" fill="#b9caea"/>
<rect x="630.56" y="690.54" width="6.46" height="9.06" fill="#b0c5ec"/>
<rect x="636.67" y="690.54" width="6.46" height="9.06" fill="#b9caea"/>
<rect x="642.79" y="690.54" width="6.46" height="9.06" fill="#b0c5ec"/>
<text x="650.60" y="697.00" font-size="6.85" text-anchor="start" fill="#222" >RBBP7</text>
<rect x="557.20" y="296.00" width="18.64" height="11.30" fill="#6cc04b"/>
<rect x="575.54" y="296.00" width="18.64" height="11.30" fill="#ede089"/>
<rect x="593.88" y="296.00" width="18.64" height="11.30" fill="#76a8dc"/>
<rect x="612.22" y="296.00" width="18.64" height="11.30" fill="#84cdb4"/>
<rect x="630.56" y="296.00" width="18.64" height="11.30" fill="#dd6bb5"/>
<rect x="612.22" y="464.08" width="18.34" height="69.68" fill="none" stroke="#111" stroke-width="1.7"/>
<rect x="630.56" y="646.99" width="18.34" height="26.13" fill="none" stroke="#111" stroke-width="1.7"/>
<text x="566.17" y="290.30" font-size="10.50" text-anchor="start" fill="#222222" transform="rotate(-45.00 566.17 290.30)" ><tspan font-size="10.50" dy="0.00">X</tspan><tspan font-size="5.98" dy="-3.15">Cast</tspan><tspan font-size="10.50" dy="3.15">X</tspan><tspan font-size="5.98" dy="-3.15">Mus</tspan></text>
<text x="584.51" y="290.30" font-size="10.50" text-anchor="start" fill="#222222" transform="rotate(-45.00 584.51 290.30)" ><tspan font-size="10.50" dy="0.00">X</tspan><tspan font-size="5.98" dy="-3.15">Mus</tspan><tspan font-size="10.50" dy="3.15">Y</tspan></text>
<text x="602.85" y="290.30" font-size="10.50" text-anchor="start" fill="#222222" transform="rotate(-45.00 602.85 290.30)" ><tspan font-size="10.50" dy="0.00">X</tspan><tspan font-size="5.98" dy="-3.15">Cast</tspan><tspan font-size="10.50" dy="3.15">O</tspan><tspan font-size="5.98" dy="-3.15">Mus</tspan></text>
<text x="621.39" y="290.50" font-size="9.50" text-anchor="middle" fill="#222222" >E</text>
<text x="639.73" y="290.50" font-size="9.50" text-anchor="middle" fill="#222222" >K</text>
<rect x="545.60" y="464.08" width="7.70" height="69.68" fill="#84cdb4"/>
<rect x="545.60" y="646.99" width="7.70" height="26.13" fill="#dd6bb5"/>
<text x="541.20" y="495.60" font-size="9.50" text-anchor="end" fill="#222222" >Deletion E</text>
<text x="541.20" y="507.20" font-size="9.50" text-anchor="end" fill="#222222" >region</text>
<text x="541.20" y="657.40" font-size="9.50" text-anchor="end" fill="#222222" >Deletion K</text>
<text x="541.20" y="668.70" font-size="9.50" text-anchor="end" fill="#222222" >region</text>
<defs><linearGradient id="zg" x1="0" y1="1" x2="0" y2="0"><stop offset="0.0000" stop-color="#6284ce"/><stop offset="0.1478" stop-color="#8aa6e2"/><stop offset="0.2709" stop-color="#b0c5ec"/><stop offset="0.3941" stop-color="#dddee2"/><stop offset="0.5172" stop-color="#f2cbb7"/><stop offset="0.6404" stop-color="#f5a887"/><stop offset="0.7635" stop-color="#e97a60"/><stop offset="0.8867" stop-color="#d0403e"/><stop offset="1.0000" stop-color="#b41b2d"/></linearGradient></defs>
<rect x="524.00" y="556.40" width="10.00" height="72.90" fill="url(#zg)"/>
<line x1="524.00" y1="564.70" x2="526.00" y2="564.70" stroke="#333" stroke-width="0.80" stroke-linecap="butt"/>
<line x1="532.00" y1="564.70" x2="534.00" y2="564.70" stroke="#333" stroke-width="0.80" stroke-linecap="butt"/>
<text x="535.30" y="567.70" font-size="10.20" text-anchor="start" fill="#222222" >2</text>
<line x1="524.00" y1="582.50" x2="526.00" y2="582.50" stroke="#333" stroke-width="0.80" stroke-linecap="butt"/>
<line x1="532.00" y1="582.50" x2="534.00" y2="582.50" stroke="#333" stroke-width="0.80" stroke-linecap="butt"/>
<text x="535.30" y="585.50" font-size="10.20" text-anchor="start" fill="#222222" >1</text>
<line x1="524.00" y1="600.30" x2="526.00" y2="600.30" stroke="#333" stroke-width="0.80" stroke-linecap="butt"/>
<line x1="532.00" y1="600.30" x2="534.00" y2="600.30" stroke="#333" stroke-width="0.80" stroke-linecap="butt"/>
<text x="535.30" y="603.30" font-size="10.20" text-anchor="start" fill="#222222" >0</text>
<line x1="524.00" y1="618.10" x2="526.00" y2="618.10" stroke="#333" stroke-width="0.80" stroke-linecap="butt"/>
<line x1="532.00" y1="618.10" x2="534.00" y2="618.10" stroke="#333" stroke-width="0.80" stroke-linecap="butt"/>
<text x="535.30" y="621.10" font-size="10.20" text-anchor="start" fill="#222222" >−1</text>
<text x="520.50" y="553.00" font-size="9.50" text-anchor="middle" fill="#222222" >z-score</text>
</svg></body></html>
